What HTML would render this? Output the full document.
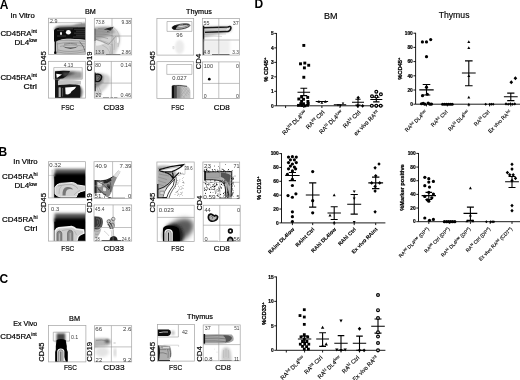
<!DOCTYPE html>
<html><head><meta charset="utf-8"><title>Figure</title>
<style>
html,body{margin:0;padding:0;background:#fff;}
body{width:520px;height:380px;overflow:hidden;}
svg{display:block;font-family:'Liberation Sans', sans-serif;}
</style></head><body>
<svg width="520" height="380" viewBox="0 0 520 380">
<defs>
<filter id="b1" x="-20%" y="-20%" width="140%" height="140%"><feGaussianBlur stdDeviation="0.5"/></filter>
<filter id="b2" x="-30%" y="-30%" width="160%" height="160%"><feGaussianBlur stdDeviation="1"/></filter>
<filter id="b3" x="-40%" y="-40%" width="180%" height="180%"><feGaussianBlur stdDeviation="1.6"/></filter>
<filter id="b4" x="-50%" y="-50%" width="200%" height="200%"><feGaussianBlur stdDeviation="2.5"/></filter>
<filter id="t1" x="-5%" y="-20%" width="110%" height="140%"><feGaussianBlur stdDeviation="0.28"/></filter>
</defs>
<rect width="520" height="380" fill="#fff"/>
<text x="-0.3" y="8.5" font-size="12" font-weight="bold" >A</text>
<text x="-1.6" y="155.6" font-size="12" font-weight="bold" >B</text>
<text x="-0.6" y="283.4" font-size="12" font-weight="bold" >C</text>
<text x="254.4" y="8.3" font-size="12" font-weight="bold" >D</text>
<text x="10.4" y="17.5" font-size="7.2" textLength="24.3" lengthAdjust="spacingAndGlyphs" stroke="#000" stroke-width="0.2">In Vitro</text>
<text x="0.4" y="35.8" font-size="7.7" textLength="36.6" lengthAdjust="spacingAndGlyphs" stroke="#000" stroke-width="0.2">CD45RA<tspan font-size="5" dy="-2.6">int</tspan></text>
<text x="14.5" y="44.8" font-size="7.7" textLength="22.5" lengthAdjust="spacingAndGlyphs" stroke="#000" stroke-width="0.2">DL4<tspan font-size="5" dy="-2.6">low</tspan></text>
<text x="0.4" y="80" font-size="7.7" textLength="36.6" lengthAdjust="spacingAndGlyphs" stroke="#000" stroke-width="0.2">CD45RA<tspan font-size="5" dy="-2.6">int</tspan></text>
<text x="23.5" y="89" font-size="7.7" textLength="13.5" lengthAdjust="spacingAndGlyphs" stroke="#000" stroke-width="0.2">Ctrl</text>
<text x="85" y="13.8" font-size="7.4" textLength="10.8" lengthAdjust="spacingAndGlyphs" stroke="#000" stroke-width="0.2">BM</text>
<text x="186" y="13.5" font-size="7.4" textLength="25.8" lengthAdjust="spacingAndGlyphs" stroke="#000" stroke-width="0.2">Thymus</text>
<text x="13.3" y="164.1" font-size="7.2" textLength="24.3" lengthAdjust="spacingAndGlyphs" stroke="#000" stroke-width="0.2">In Vitro</text>
<text x="2.1" y="179" font-size="7.7" textLength="35.5" lengthAdjust="spacingAndGlyphs" stroke="#000" stroke-width="0.2">CD45RA<tspan font-size="5" dy="-2.6">hi</tspan></text>
<text x="14.5" y="188.2" font-size="7.7" textLength="22.5" lengthAdjust="spacingAndGlyphs" stroke="#000" stroke-width="0.2">DL4<tspan font-size="5" dy="-2.6">low</tspan></text>
<text x="2.1" y="222" font-size="7.7" textLength="35.5" lengthAdjust="spacingAndGlyphs" stroke="#000" stroke-width="0.2">CD45RA<tspan font-size="5" dy="-2.6">hi</tspan></text>
<text x="24.1" y="231.4" font-size="7.7" textLength="13.2" lengthAdjust="spacingAndGlyphs" stroke="#000" stroke-width="0.2">Ctrl</text>
<text x="13.3" y="325.6" font-size="7.2" textLength="24" lengthAdjust="spacingAndGlyphs" stroke="#000" stroke-width="0.2">Ex Vivo</text>
<text x="0.2" y="339" font-size="7.7" textLength="36.6" lengthAdjust="spacingAndGlyphs" stroke="#000" stroke-width="0.2">CD45RA<tspan font-size="5" dy="-2.6">int</tspan></text>
<text x="69" y="320.8" font-size="7.8" textLength="11" lengthAdjust="spacingAndGlyphs" stroke="#000" stroke-width="0.2">BM</text>
<text x="187" y="319" font-size="7.6" textLength="26" lengthAdjust="spacingAndGlyphs" stroke="#000" stroke-width="0.2">Thymus</text>
<text x="61.2" y="109.8" font-size="8.1" textLength="13" lengthAdjust="spacingAndGlyphs" stroke="#000" stroke-width="0.2">FSC</text>
<text x="103.5" y="109.8" font-size="8.1" textLength="20.5" lengthAdjust="spacingAndGlyphs" stroke="#000" stroke-width="0.2">CD33</text>
<text x="171.3" y="109.8" font-size="8.1" textLength="13" lengthAdjust="spacingAndGlyphs" stroke="#000" stroke-width="0.2">FSC</text>
<text x="213.7" y="109.8" font-size="8.1" textLength="16.1" lengthAdjust="spacingAndGlyphs" stroke="#000" stroke-width="0.2">CD8</text>
<text transform="translate(46.1 70.9) rotate(-90)" font-size="8" textLength="19.6" lengthAdjust="spacingAndGlyphs" stroke="#000" stroke-width="0.2">CD45</text>
<text transform="translate(92.1 71.3) rotate(-90)" font-size="8" textLength="20" lengthAdjust="spacingAndGlyphs" stroke="#000" stroke-width="0.2">CD19</text>
<text transform="translate(155.3 70.85) rotate(-90)" font-size="8" textLength="19.7" lengthAdjust="spacingAndGlyphs" stroke="#000" stroke-width="0.2">CD45</text>
<text transform="translate(201.2 69.2) rotate(-90)" font-size="8" textLength="15.4" lengthAdjust="spacingAndGlyphs" stroke="#000" stroke-width="0.2">CD4</text>
<text x="61.2" y="250.7" font-size="8.1" textLength="13" lengthAdjust="spacingAndGlyphs" stroke="#000" stroke-width="0.2">FSC</text>
<text x="103.5" y="250.7" font-size="8.1" textLength="20.5" lengthAdjust="spacingAndGlyphs" stroke="#000" stroke-width="0.2">CD33</text>
<text x="171.3" y="250.7" font-size="8.1" textLength="13" lengthAdjust="spacingAndGlyphs" stroke="#000" stroke-width="0.2">FSC</text>
<text x="213.7" y="250.7" font-size="8.1" textLength="16.1" lengthAdjust="spacingAndGlyphs" stroke="#000" stroke-width="0.2">CD8</text>
<text transform="translate(46 212.5) rotate(-90)" font-size="8" textLength="19.4" lengthAdjust="spacingAndGlyphs" stroke="#000" stroke-width="0.2">CD45</text>
<text transform="translate(92 212.9) rotate(-90)" font-size="8" textLength="19.8" lengthAdjust="spacingAndGlyphs" stroke="#000" stroke-width="0.2">CD19</text>
<text transform="translate(155.3 212.45) rotate(-90)" font-size="8" textLength="19.7" lengthAdjust="spacingAndGlyphs" stroke="#000" stroke-width="0.2">CD45</text>
<text transform="translate(201.5 210.6) rotate(-90)" font-size="8" textLength="15" lengthAdjust="spacingAndGlyphs" stroke="#000" stroke-width="0.2">CD4</text>
<text x="63.9" y="370.2" font-size="8" textLength="12.9" lengthAdjust="spacingAndGlyphs" stroke="#000" stroke-width="0.2">FSC</text>
<text x="103.3" y="370.2" font-size="8" textLength="21.2" lengthAdjust="spacingAndGlyphs" stroke="#000" stroke-width="0.2">CD33</text>
<text x="169.1" y="370.2" font-size="8" textLength="13.1" lengthAdjust="spacingAndGlyphs" stroke="#000" stroke-width="0.2">FSC</text>
<text x="215.2" y="370.2" font-size="8" textLength="15.6" lengthAdjust="spacingAndGlyphs" stroke="#000" stroke-width="0.2">CD8</text>
<text transform="translate(44.3 361.70000000000005) rotate(-90)" font-size="7.8" textLength="19.2" lengthAdjust="spacingAndGlyphs" stroke="#000" stroke-width="0.2">CD45</text>
<text transform="translate(91.9 361.7) rotate(-90)" font-size="7.8" textLength="19.8" lengthAdjust="spacingAndGlyphs" stroke="#000" stroke-width="0.2">CD19</text>
<text transform="translate(155.3 361.7) rotate(-90)" font-size="7.8" textLength="19.6" lengthAdjust="spacingAndGlyphs" stroke="#000" stroke-width="0.2">CD45</text>
<text transform="translate(201.5 361.7) rotate(-90)" font-size="7.8" textLength="15.4" lengthAdjust="spacingAndGlyphs" stroke="#000" stroke-width="0.2">CD4</text>
<clipPath id="cp1"><rect x="48.6" y="18.2" width="36.80" height="36.20"/></clipPath>
<rect x="48.6" y="18.2" width="36.80" height="36.20" fill="#fff"/>
<g clip-path="url(#cp1)">
<path d="M48.6 22.7H81.6V39" stroke="#8f8f8f" stroke-width="0.55" fill="none"/>
<path d="M54 30Q55 25.6 62 25.8L92 24.8V30H54Z" fill="#666" filter="url(#b2)"/>
<path d="M72 26.5Q80 22.4 92 22.6V27.5H72Z" fill="#888" filter="url(#b2)"/>
<path d="M54 41.5V30.4Q54.8 27.9 60 27.8L92 27.2V41Q78 38.3 67 38.8Q60 39.2 57 41.5Z" fill="#0c0c0c" filter="url(#b1)"/>
<path d="M74 29.3H92M76 31.2H92M74 33.2H92M76 35.2H92M73 37H92M59 28.8H73M57 30.6H64M57 36H66" stroke="#666" stroke-width="0.5" fill="none"/>
<path d="M56.3 41.8Q60 39.3 67 39Q76 38.4 92 40.8V54.5H56.3Z" fill="#c2c2c2"/>
<path d="M57 44Q70 41 85.4 44M58 50Q70 53.4 85.4 49.4M60 46.5Q70 43.5 85.4 46.5M57 42Q58 48 57.6 53M58 52Q70 55 85.4 51.6M57 40.6Q66 39.6 85.4 41.4" stroke="#777" stroke-width="0.45" fill="none"/>
<path d="M62.5 46.2Q70.5 51.8 78.5 46.2Q70.5 48.8 62.5 46.2Z" fill="#555" filter="url(#b1)"/>
<path d="M64 44.2Q70.5 42.6 77 44.2" stroke="#555" stroke-width="0.6" fill="none" filter="url(#b1)"/>
<path d="M79.6 41.6Q84 46 85.4 52" stroke="#555" stroke-width="0.7" fill="none" filter="url(#b1)"/>
<ellipse cx="68.4" cy="32.3" rx="2.5" ry="2.25" fill="#fff"/>
<ellipse cx="61" cy="33.5" rx="0.9" ry="1.7" fill="#fff"/>
<rect x="54.6" y="39" width="1.5" height="14.5" fill="#111"/>
<rect x="54.2" y="51.6" width="2.2" height="2.2" fill="#000"/>
</g>
<rect x="48.6" y="18.2" width="36.80" height="36.20" fill="none" stroke="#a2a2a2" stroke-width="0.7"/>
<text x="50" y="23.4" font-size="5.15" textLength="7.4" lengthAdjust="spacingAndGlyphs" fill="#3c3c3c" >2.9</text>
<clipPath id="cp2"><rect x="94.3" y="18.3" width="37.40" height="36.60"/></clipPath>
<rect x="94.3" y="18.3" width="37.40" height="36.60" fill="#fff"/>
<g clip-path="url(#cp2)">
<path d="M90 27.6Q102 25.8 110 26.2Q116 27.6 119.6 33.4Q121.4 40 118.6 47Q115.6 52.4 113 60H90Z" fill="#d0d0d0" filter="url(#b2)"/>
<path d="M90 28.6Q102 26.8 109 27.4Q113 28.6 115.4 32Q109 35.4 104 37Q98 39.6 90 41Z" fill="#a0a0a0" filter="url(#b2)"/>
<path d="M94.6 30.2Q102 29.4 108 30.2M94.6 32Q102 31.4 110 32.6M94.6 34Q104 33.6 112.6 35.6M94.6 36Q102 36.4 108 38.6M98 28.6Q104 28 108 28.2" stroke="#777" stroke-width="0.45" fill="none"/>
<path d="M103.6 29.6Q108.5 27.6 113.6 26.8Q113.2 28.6 111 30.4Q107 29.6 103.6 29.6Z" fill="#222" filter="url(#b1)"/>
<path d="M107 31.8Q111 30.6 113 28.2" stroke="#555" stroke-width="0.8" fill="none" filter="url(#b1)"/>
<path d="M113.6 27.4Q117.6 30 119 35Q120.4 41 118 47" stroke="#aaa" stroke-width="0.5" fill="none"/>
<path d="M95 42Q102 44 107 48Q110 51 110 55M100 40Q108 42 112 45M113 36Q116 42 114 50M110 46L111 54.6M112.4 44V54.6" stroke="#999" stroke-width="0.4" fill="none"/>
<path d="M94.6 38.8Q103 41.6 108.5 44.4L116 36.2" stroke="#6a6a6a" stroke-width="0.5" fill="none"/>
<path d="M96 40.6Q101 41.6 104.6 43.6Q100 46 96 45.6Z" fill="#eee" filter="url(#b1)"/>
<ellipse cx="117.8" cy="40" rx="1.2" ry="3.3" fill="#fff" stroke="#aaa" stroke-width="0.3"/>
<rect x="94" y="28.6" width="1.4" height="12.4" fill="#444" filter="url(#b1)"/>
<path d="M106 54.7H120.4" stroke="#333" stroke-width="0.9"/>
</g>
<path d="M112 18.3V54.9M94.3 36H131.7" stroke="#8f8f8f" stroke-width="0.55" fill="none"/>
<rect x="94.3" y="18.3" width="37.40" height="36.60" fill="none" stroke="#a2a2a2" stroke-width="0.7"/>
<text x="95.8" y="23.8" font-size="5.15" textLength="8.8" lengthAdjust="spacingAndGlyphs" fill="#3c3c3c" >73.8</text>
<text x="131" y="23.8" font-size="5.15" textLength="9.6" lengthAdjust="spacingAndGlyphs" text-anchor="end" fill="#3c3c3c" >9.38</text>
<text x="95.3" y="54.3" font-size="5.15" textLength="9.2" lengthAdjust="spacingAndGlyphs" fill="#3c3c3c" >13.9</text>
<text x="131" y="54.3" font-size="5.15" textLength="9.6" lengthAdjust="spacingAndGlyphs" text-anchor="end" fill="#3c3c3c" >2.86</text>
<clipPath id="cp3"><rect x="48.6" y="61.3" width="36.80" height="36.80"/></clipPath>
<rect x="48.6" y="61.3" width="36.80" height="36.80" fill="#fff"/>
<g clip-path="url(#cp3)">
<path d="M55 71.2Q62 70.4 72 70.8Q80 71 82 72V78.6Q74 79.6 66 79.2L55 79.8Z" fill="#999" filter="url(#b2)"/>
<path d="M55 71.2Q62 70.4 70 71Q68 76 63 78.5L55 79.8Z" fill="#111" filter="url(#b1)"/>
<path d="M62 72.5Q70 72 76 73Q70 75 64 77Z" fill="#444" filter="url(#b2)"/>
<path d="M56.2 73.7L62 74.5L56.8 77.9Z" fill="#fff"/>
<path d="M55 79V98H58.2V84Q58 81 60 79.6Z" fill="#1a1a1a" filter="url(#b1)"/>
<path d="M58 80.5Q68 79.5 81 81V84.5Q70 83.5 58 85Z" fill="#c4c4c4" filter="url(#b1)"/>
<path d="M76 84.6Q82.5 86 82.6 92Q82.4 96 80.6 98.5H74Z" fill="#666" filter="url(#b2)"/>
<path d="M55 86Q58 84.6 66 84.4Q76 84 80 85.6Q81 90 80 98.5H55Z" fill="#161616" filter="url(#b1)"/>
<path d="M58.6 87.6Q59.6 86.8 60.8 87.6V97H58.6Z" fill="#b4b4b4"/>
<path d="M65.2 87.4L76.2 86.8Q75 89.6 71.6 91.2Q71 93.6 68 94.4L65.6 94.2Z" fill="#fff"/>
<path d="M62.6 88V96.5" stroke="#999" stroke-width="0.5"/>
</g>
<path d="M53.8 67.6H82.2V79.1H53.8Z" stroke="#8f8f8f" stroke-width="0.55" fill="none"/>
<rect x="48.6" y="61.3" width="36.80" height="36.80" fill="none" stroke="#a2a2a2" stroke-width="0.7"/>
<text x="63.8" y="67" font-size="5.15" textLength="9.3" lengthAdjust="spacingAndGlyphs" fill="#3c3c3c" >4.13</text>
<clipPath id="cp4"><rect x="94.3" y="61.3" width="37.40" height="36.80"/></clipPath>
<rect x="94.3" y="61.3" width="37.40" height="36.80" fill="#fff"/>
<g clip-path="url(#cp4)">
<path d="M90 73.5Q102 72.5 107 74.5Q111.4 77 110.4 82Q107 88 102 92Q99 96 96 97.6H90Z" fill="#d2d2d2" filter="url(#b2)"/>
<path d="M90 74Q100 73 102.8 75.5Q104.4 79 101.4 83.4Q98 87.4 90 89Z" fill="#808080" filter="url(#b2)"/>
<path d="M95.4 74.4Q100.4 73.4 101.6 76.4Q101.6 79.8 98.8 81.4Q96.8 82 95.4 81.2Z" fill="#777" stroke="#0a0a0a" stroke-width="1.4" filter="url(#b1)"/>
<path d="M96.6 76Q99 75.4 99.6 77Q99.4 79 97.6 79.6" stroke="#222" stroke-width="0.6" fill="none"/>
<rect x="94.2" y="72.6" width="1.5" height="18.6" fill="#0a0a0a" filter="url(#b1)"/>
<path d="M96 85Q98 90 100 97M97 83Q100 89 102 95M96 82.6Q101 84 104 82" stroke="#999" stroke-width="0.4" fill="none"/>
<path d="M103 97.9H109M110.5 97.9H113M114 97.9H117.4" stroke="#333" stroke-width="0.8"/>
</g>
<path d="M111.3 61.3V98.1M94.3 83.1H131.7" stroke="#8f8f8f" stroke-width="0.55" fill="none"/>
<rect x="94.3" y="61.3" width="37.40" height="36.80" fill="none" stroke="#a2a2a2" stroke-width="0.7"/>
<text x="95.3" y="67.4" font-size="5.15" textLength="5.6" lengthAdjust="spacingAndGlyphs" fill="#3c3c3c" >80</text>
<text x="131" y="67.4" font-size="5.15" textLength="10.6" lengthAdjust="spacingAndGlyphs" text-anchor="end" fill="#3c3c3c" >0.14</text>
<text x="95.6" y="97.4" font-size="5.15" textLength="5.6" lengthAdjust="spacingAndGlyphs" fill="#3c3c3c" >20</text>
<text x="131" y="97.4" font-size="5.15" textLength="10.6" lengthAdjust="spacingAndGlyphs" text-anchor="end" fill="#3c3c3c" >0.46</text>
<clipPath id="cp5"><rect x="156.9" y="18.4" width="36.80" height="36.70"/></clipPath>
<rect x="156.9" y="18.4" width="36.80" height="36.70" fill="#fff"/>
<g clip-path="url(#cp5)">
<ellipse cx="181" cy="26.6" rx="9.6" ry="2.9" transform="rotate(-9 181 26.6)" fill="#bbb" filter="url(#b1)"/>
<ellipse cx="181" cy="26.6" rx="9" ry="2.4" transform="rotate(-9 181 26.6)" fill="#b4b4b4" stroke="#333" stroke-width="0.8"/>
<ellipse cx="182" cy="26.3" rx="6" ry="0.9" transform="rotate(-9 182 26.3)" fill="#e8e8e8" stroke="#555" stroke-width="0.5"/>
<path d="M172.3 28.6Q171.8 26.6 174.6 25.6Q177 25 179 25Q176 27 175.5 29.6Q173 30 172.3 28.6Z" fill="#111" filter="url(#b1)"/>
<path d="M183 24.6Q187 23.6 189 25.2" stroke="#222" stroke-width="0.7" fill="none" filter="url(#b1)"/>
<ellipse cx="179.6" cy="47" rx="4.6" ry="7" fill="#ebebeb" filter="url(#b2)"/>
<path d="M173.4 43V55" stroke="#aaa" stroke-width="0.8" filter="url(#b1)"/>
<ellipse cx="173.4" cy="47.6" rx="0.5" ry="1.6" fill="#fff" stroke="#999" stroke-width="0.3"/>
</g>
<path d="M167 21.5H191.9V31.4H167Z" stroke="#8f8f8f" stroke-width="0.55" fill="none"/>
<rect x="156.9" y="18.4" width="36.80" height="36.70" fill="none" stroke="#a2a2a2" stroke-width="0.7"/>
<text x="176.3" y="36.6" font-size="5.35" textLength="6.4" lengthAdjust="spacingAndGlyphs" fill="#3c3c3c" >96</text>
<clipPath id="cp6"><rect x="202.6" y="18.4" width="36.80" height="36.70"/></clipPath>
<rect x="202.6" y="18.4" width="36.80" height="36.70" fill="#fff"/>
<g clip-path="url(#cp6)">
<path d="M203 26.5L231 26Q232.5 28 231 31.5L204 37.5Z" fill="#c0c0c0" filter="url(#b2)"/>
<path d="M204 27.8L228 27Q230.5 25.6 231 27.8Q230.8 30.4 228 31.6L205 32.2" fill="#e4e4e4" stroke="#161616" stroke-width="1.5" filter="url(#b1)"/>
<path d="M205 29.2L227 28.6M205 30.6L226 30.2" stroke="#777" stroke-width="0.4" fill="none"/>
<path d="M204 34.5Q215 33.6 226 34M204 36.5Q214 35.8 222 36.5" stroke="#aaa" stroke-width="0.4" fill="none"/>
<rect x="202.6" y="25.6" width="1.7" height="30" fill="#161616" filter="url(#b1)"/>
<rect x="204" y="40" width="26" height="14" fill="#efefef" filter="url(#b3)"/>
<path d="M212 54.7H229.5" stroke="#222" stroke-width="0.9"/>
</g>
<path d="M218.8 18.4V55.1M202.6 40H239.4" stroke="#8f8f8f" stroke-width="0.55" fill="none"/>
<rect x="202.6" y="18.4" width="36.80" height="36.70" fill="none" stroke="#a2a2a2" stroke-width="0.7"/>
<text x="203.6" y="24.6" font-size="5.15" textLength="6" lengthAdjust="spacingAndGlyphs" fill="#3c3c3c" >55</text>
<text x="238.8" y="24.6" font-size="5.15" textLength="6" lengthAdjust="spacingAndGlyphs" text-anchor="end" fill="#3c3c3c" >37</text>
<text x="203.6" y="54.2" font-size="5.15" textLength="6.6" lengthAdjust="spacingAndGlyphs" fill="#3c3c3c" >4.8</text>
<text x="238.8" y="54.2" font-size="5.15" textLength="6.6" lengthAdjust="spacingAndGlyphs" text-anchor="end" fill="#3c3c3c" >3.3</text>
<clipPath id="cp7"><rect x="156.9" y="61.7" width="36.80" height="36.70"/></clipPath>
<rect x="156.9" y="61.7" width="36.80" height="36.70" fill="#fff"/>
<g clip-path="url(#cp7)">
<path d="M172 86Q180 85 187.6 86.4Q190.6 88 190.4 92V99H172Z" fill="#c4c4c4" filter="url(#b1)"/>
<path d="M173 86.2Q178 85.6 181 86V99H173Z" fill="#8c8c8c" filter="url(#b2)"/>
<path d="M171.8 86Q173 85.2 174.6 85.5V99H171.8Z" fill="#0c0c0c" filter="url(#b1)"/>
<path d="M174.4 85.8V99H176.8V86Z" fill="#4a4a4a" filter="url(#b1)"/>
<path d="M172.3 85.8Q180 85 187 86.3" stroke="#222" stroke-width="0.8" fill="none" filter="url(#b1)"/>
<path d="M180 88L187 96M182 87L189 95M180 93L185 98M184 87L190 93M187 88L181 96M189 90L183 98M184 88L179 95M178 88L183 94" stroke="#9a9a9a" stroke-width="0.35" fill="none"/>
</g>
<path d="M166.8 64.5H191.9V74.4H166.8Z" stroke="#8f8f8f" stroke-width="0.55" fill="none"/>
<rect x="156.9" y="61.7" width="36.80" height="36.70" fill="none" stroke="#a2a2a2" stroke-width="0.7"/>
<text x="172.3" y="79.7" font-size="5.35" textLength="14.4" lengthAdjust="spacingAndGlyphs" fill="#3c3c3c" >0.027</text>
<clipPath id="cp8"><rect x="202.6" y="61.9" width="36.80" height="36.50"/></clipPath>
<rect x="202.6" y="61.9" width="36.80" height="36.50" fill="#fff"/>
<g clip-path="url(#cp8)"><circle cx="209.3" cy="79.2" r="1.35" fill="#000"/></g>
<path d="M218.8 61.9V98.4M202.6 83.4H239.4" stroke="#8f8f8f" stroke-width="0.55" fill="none"/>
<rect x="202.6" y="61.9" width="36.80" height="36.50" fill="none" stroke="#a2a2a2" stroke-width="0.7"/>
<text x="203.8" y="67.7" font-size="5.35" textLength="9.2" lengthAdjust="spacingAndGlyphs" fill="#3c3c3c" >100</text>
<text x="239" y="67.7" font-size="5.35" textLength="2.9" lengthAdjust="spacingAndGlyphs" text-anchor="end" fill="#3c3c3c" >0</text>
<text x="203.8" y="97.7" font-size="5.35" textLength="2.9" lengthAdjust="spacingAndGlyphs" fill="#3c3c3c" >0</text>
<text x="239" y="97.7" font-size="5.35" textLength="2.9" lengthAdjust="spacingAndGlyphs" text-anchor="end" fill="#3c3c3c" >0</text>
<clipPath id="cp9"><rect x="48.4" y="161.7" width="37.00" height="36.20"/></clipPath>
<rect x="48.4" y="161.7" width="37.00" height="36.20" fill="#fff"/>
<g clip-path="url(#cp9)">
<path d="M48.4 175.4H54M52.1 169.6V198" stroke="#aaa" stroke-width="0.5" fill="none"/>
<rect x="54.6" y="169" width="40" height="10" fill="#555" filter="url(#b3)"/>
<rect x="54.6" y="173.5" width="40" height="30" fill="#000" filter="url(#b2)"/>
<rect x="54.3" y="176.5" width="40" height="24" fill="#000"/>
<path d="M54.9 187.6Q56.2 184 60.4 183.4L72.5 182.5Q75.5 183 77.6 185L85.4 186.2V190.4Q80 191.4 77.8 193.2Q77 195.6 76.2 197H60.6Q56.6 196.2 55.1 194Z" fill="#d2d2d2" stroke="#f6f6f6" stroke-width="1"/>
<path d="M58 186Q66 184 72 184.6Q76 186 78 188.6" stroke="#888" stroke-width="0.5" fill="none"/>
<path d="M62.5 195.5Q62 187.8 67 187Q72 186.6 73 189.5Q70 188.6 67.6 189.4Q65.4 191 65.6 195.5Z" fill="#777" filter="url(#b1)"/>
<path d="M59 194Q58.6 188 61.6 186M74 195Q76 192 80 190.4" stroke="#999" stroke-width="0.45" fill="none"/>
</g>
<rect x="48.4" y="161.7" width="37.00" height="36.20" fill="none" stroke="#a2a2a2" stroke-width="0.7"/>
<text x="49.3" y="167.3" font-size="6.2" textLength="11.7" lengthAdjust="spacingAndGlyphs" fill="#3c3c3c" >0.32</text>
<clipPath id="cp10"><rect x="94" y="161.7" width="37.70" height="36.80"/></clipPath>
<rect x="94" y="161.7" width="37.70" height="36.80" fill="#fff"/>
<g clip-path="url(#cp10)">
<path d="M90 180L101 180.6Q108 179.4 113 176.4L118.4 170.6L120.4 171.8L117 177.6Q113.6 184 111.6 192Q109.6 196.6 107.4 197.6L101.6 193L96.8 193L90 192Z" fill="#8c8c8c" filter="url(#b1)"/>
<path d="M113.4 176L118.6 170.4L120.6 171.6L117 177.4Z" fill="#e2e2e2"/>
<path d="M94.4 180V193.6H96.6V181Z" fill="#222" filter="url(#b1)"/>
<path d="M103 181.6Q107 181 110.6 178.6L111.6 180.4Q108 183 104 183.6ZM107 184.6Q109.6 184 110.6 185.4L109.6 189.4Q107.6 188 106.6 186Z" fill="#222" filter="url(#b1)"/>
<path d="M97.6 182Q100 181.4 102 182.4V186Q100 187.4 97.6 186.6ZM103 187.4Q105 187 106 188.6V191Q104 191.6 103 190.6Z" fill="#e0e0e0"/>
<path d="M98 189Q102 192 105 194.6M97 181Q104 184 109 190M96.8 187Q100 190 101 193M110 182Q112 186 110.6 192" stroke="#333" stroke-width="0.6" fill="none"/><path d="M94.6 180.6Q101 181.6 106 180.4Q110 179 113.4 176.4" stroke="#1a1a1a" stroke-width="1" fill="none" filter="url(#b1)"/>
<path d="M107.4 198.2Q109.4 196.2 112 198.2Z" fill="#111"/>
<path d="M108 198.2H125" stroke="#333" stroke-width="0.8"/>
</g>
<path d="M112.6 161.7V198.5M94 185.8H131.7" stroke="#8f8f8f" stroke-width="0.55" fill="none"/>
<rect x="94" y="161.7" width="37.70" height="36.80" fill="none" stroke="#a2a2a2" stroke-width="0.7"/>
<text x="95.2" y="168.1" font-size="6.2" textLength="11.7" lengthAdjust="spacingAndGlyphs" fill="#3c3c3c" >40.9</text>
<text x="131.5" y="168.1" font-size="6.2" textLength="12" lengthAdjust="spacingAndGlyphs" text-anchor="end" fill="#3c3c3c" >7.39</text>
<text x="94.5" y="198.4" font-size="6.2" textLength="12" lengthAdjust="spacingAndGlyphs" fill="#3c3c3c" >51.7</text>
<text x="131.2" y="198.4" font-size="6.2" textLength="3.3" lengthAdjust="spacingAndGlyphs" text-anchor="end" fill="#3c3c3c" >0</text>
<clipPath id="cp11"><rect x="48.4" y="204.6" width="37.00" height="36.50"/></clipPath>
<rect x="48.4" y="204.6" width="37.00" height="36.50" fill="#fff"/>
<g clip-path="url(#cp11)">
<rect x="54.6" y="213.5" width="40" height="9" fill="#4a4a4a" filter="url(#b3)"/>
<rect x="54.6" y="218.5" width="40" height="30" fill="#000" filter="url(#b2)"/>
<rect x="54.3" y="221.6" width="40" height="24" fill="#000"/>
<path d="M54.5 230.4Q56 227.4 58.6 227L71.8 225.8Q74.6 226.4 76.4 228.2L84.2 229.3L84.7 233.6Q80 235.4 78.8 237Q78 239.4 77.6 241.4H54.5Z" fill="#f2f2f2"/>
<path d="M55.6 231.6Q57 229 59.4 228.6L71.6 227.4Q74 228 75.6 229.8L83 230.8L83.2 233Q79 234.6 77.6 236.4Q76.8 239 76.4 241.4H55.6Z" fill="#cfcfcf"/>
<path d="M57 241.4V233.6Q57.2 231.2 59.4 231Q61.6 231.2 61.8 233.6V241.4ZM67.6 241.4V232.8Q67.8 230.4 70.2 230.2Q72.6 230.4 72.8 232.8V241.4Z" fill="#8a8a8a" stroke="#5a5a5a" stroke-width="0.7" filter="url(#b1)"/>
<path d="M59.4 241.4V233.4M70.2 241.4V232.8" stroke="#ddd" stroke-width="0.6"/>
<path d="M62 230.6Q66 229.6 70 229.4M74.4 231Q76 232.6 76.4 235" stroke="#999" stroke-width="0.45" fill="none"/>
</g>
<rect x="48.4" y="204.6" width="37.00" height="36.50" fill="none" stroke="#a2a2a2" stroke-width="0.7"/>
<text x="51.1" y="211.3" font-size="5.85" textLength="8.1" lengthAdjust="spacingAndGlyphs" fill="#3c3c3c" >0.3</text>
<clipPath id="cp12"><rect x="94" y="204.9" width="37.70" height="36.20"/></clipPath>
<rect x="94" y="204.9" width="37.70" height="36.20" fill="#fff"/>
<g clip-path="url(#cp12)">
<path d="M90 216.6Q99 215.2 102 218Q104 222 102 226.4Q99 230.4 95 231.4L90 231.4Z" fill="#5a5a5a" filter="url(#b1)"/>
<path d="M95.4 217.6Q99.6 217 100.6 219.6Q101.2 223 99.2 226Q97 228.4 95.4 228.4ZM96.6 219.6Q98.8 219.6 98.8 222Q98.6 224.6 96.6 225.6Z" fill="none" stroke="#222" stroke-width="0.7"/>
<rect x="94.2" y="217" width="1.4" height="11" fill="#333" filter="url(#b1)"/>
<path d="M94.4 229Q98 230.4 101.4 228Q100.6 234 96 238.6H94.4Z" fill="#bbb" filter="url(#b1)"/>
<path d="M95 231Q98 232 100 230.6M95 234Q97 235 98.6 234" stroke="#777" stroke-width="0.4" fill="none"/>
<circle cx="111" cy="223" r="4.2" fill="#ccc" filter="url(#b1)"/>
<path d="M107 221.4A1.7 1.7 0 1 0 110.4 221.4A1.7 1.7 0 1 0 107 221.4M111.6 219A1.7 1.7 0 1 0 115 219A1.7 1.7 0 1 0 111.6 219M109.8 225.8A2.3 2.7 0 1 0 114.4 225.8A2.3 2.7 0 1 0 109.8 225.8" fill="none" stroke="#333" stroke-width="0.6"/>
<path d="M109.4 222.4Q112 224 112.6 228.4M108 224Q110 226 110.4 229" stroke="#222" stroke-width="0.9" fill="none" filter="url(#b1)"/>
<path d="M111 230Q112 233 111.6 236M113.4 230Q113 233 114 236M104 231Q107 233 109 236" stroke="#999" stroke-width="0.4" fill="none"/>
<path d="M109.4 241.1Q109.8 236.2 113.6 236Q117.4 236.2 117.8 241.1Z" fill="#1a1a1a" filter="url(#b1)"/>
<path d="M101.6 240.7H121.4" stroke="#1a1a1a" stroke-width="1"/>
</g>
<path d="M113.1 204.9V241.1M94 227.5H131.7" stroke="#8f8f8f" stroke-width="0.55" fill="none"/>
<rect x="94" y="204.9" width="37.70" height="36.20" fill="none" stroke="#a2a2a2" stroke-width="0.7"/>
<text x="95.1" y="210.6" font-size="4.85" textLength="9.3" lengthAdjust="spacingAndGlyphs" fill="#3c3c3c" >45.4</text>
<text x="130.6" y="210.6" font-size="4.85" textLength="8.8" lengthAdjust="spacingAndGlyphs" text-anchor="end" fill="#3c3c3c" >1.83</text>
<text x="95.3" y="240.8" font-size="4.65" textLength="4.4" lengthAdjust="spacingAndGlyphs" fill="#3c3c3c" >28</text>
<text x="130.4" y="240.8" font-size="4.65" textLength="8.6" lengthAdjust="spacingAndGlyphs" text-anchor="end" fill="#3c3c3c" >24.6</text>
<clipPath id="cp13"><rect x="156.9" y="162" width="37.30" height="36.50"/></clipPath>
<rect x="156.9" y="162" width="37.30" height="36.50" fill="#fff"/>
<g clip-path="url(#cp13)">
<path d="M178.8 174.2H185V164" stroke="#aaa" stroke-width="0.5" fill="none"/>
<path d="M157 166Q166 165 173 166.6L177 175Q172 184 166 188L157 191Z" fill="#aaa" filter="url(#b2)"/>
<path d="M158 168.6L170 168.4M158 171L167 172.4M159 174L169 176M158 177L167 179.6M158 180.6L166 183M158 184L164 186" stroke="#777" stroke-width="0.45" fill="none"/>
<path d="M159.6 169.6Q170 166.2 183.6 164.6Q180 168.4 172 171.6Q166 172.4 161.6 171.4Q159 170.8 159.6 169.6Z" fill="#f4f4f4" stroke="#111" stroke-width="1.2" filter="url(#b1)"/>
<path d="M162 169.9Q170 168 179 166.7" stroke="#666" stroke-width="0.4" fill="none"/>
<path d="M165 172.4Q171 173.6 173 178.6L179 172.6M173 178.6Q173.6 175 172.4 172.6" stroke="#111" stroke-width="1.2" fill="none" filter="url(#b1)"/>
<path d="M174.6 179Q174.4 186 169.6 191Q167.6 194.4 166.8 197.6L162.6 197.8Q163.6 191.6 167.4 187Q171.4 182.6 174.6 179Z" fill="#fdfdfd" stroke="#222" stroke-width="0.9" filter="url(#b1)"/>
<path d="M176 177Q177.6 184 172.6 190Q170 194 169 198" stroke="#444" stroke-width="0.8" fill="none" filter="url(#b1)"/>
<path d="M173 178.6Q170 183.6 164 187L158 189.4" stroke="#222" stroke-width="1" fill="none" filter="url(#b1)"/>
<path d="M158 189.8H166Q163.6 192 162.6 197.6H158Z" fill="#bbb"/>
<path d="M160 191.4H164V194.6H160Z" fill="#d8d8d8" stroke="#777" stroke-width="0.45"/>
<path d="M157.7 184V197.9H167" stroke="#0a0a0a" stroke-width="1.4" fill="none"/>
<g fill="#333"><circle cx="179.9" cy="180.9" r=".32"/><circle cx="180.6" cy="173.6" r=".32"/><circle cx="182.5" cy="178.2" r=".32"/><circle cx="184.0" cy="183.3" r=".32"/><circle cx="179.3" cy="187.3" r=".32"/><circle cx="180.7" cy="192.8" r=".32"/><circle cx="181.7" cy="188.1" r=".32"/><circle cx="181.8" cy="186.2" r=".32"/><circle cx="175.3" cy="192.8" r=".32"/><circle cx="181.5" cy="193.1" r=".32"/><circle cx="183.3" cy="181.5" r=".32"/><circle cx="179.0" cy="194.5" r=".32"/><circle cx="179.9" cy="175.3" r=".32"/><circle cx="183.7" cy="182.5" r=".32"/><circle cx="177.7" cy="184.2" r=".32"/><circle cx="178.2" cy="186.0" r=".32"/><circle cx="183.1" cy="188.4" r=".32"/><circle cx="182.7" cy="195.8" r=".32"/><circle cx="176.5" cy="192.7" r=".32"/><circle cx="183.1" cy="185.7" r=".32"/><circle cx="176.9" cy="192.0" r=".32"/><circle cx="181.6" cy="173.5" r=".32"/><circle cx="183.9" cy="174.1" r=".32"/><circle cx="178.7" cy="175.6" r=".32"/><circle cx="181.9" cy="192.9" r=".32"/><circle cx="180.5" cy="173.1" r=".32"/><circle cx="178.0" cy="193.1" r=".32"/><circle cx="179.5" cy="196.0" r=".32"/><circle cx="175.7" cy="186.4" r=".32"/><circle cx="176.8" cy="181.8" r=".32"/><circle cx="180.4" cy="173.0" r=".32"/><circle cx="177.8" cy="195.0" r=".32"/><circle cx="178.4" cy="183.0" r=".32"/><circle cx="180.8" cy="186.3" r=".32"/><circle cx="180.6" cy="194.6" r=".32"/><circle cx="178.9" cy="189.3" r=".32"/><circle cx="177.7" cy="195.5" r=".32"/><circle cx="179.9" cy="172.3" r=".32"/><circle cx="180.2" cy="172.5" r=".32"/><circle cx="180.7" cy="173.4" r=".32"/><circle cx="179.2" cy="188.3" r=".32"/><circle cx="181.4" cy="189.7" r=".32"/><circle cx="175.5" cy="188.2" r=".32"/><circle cx="177.3" cy="183.0" r=".32"/><circle cx="177.9" cy="180.7" r=".32"/><circle cx="178.3" cy="186.3" r=".32"/><circle cx="178.4" cy="190.5" r=".32"/><circle cx="180.1" cy="189.6" r=".32"/><circle cx="177.0" cy="191.3" r=".32"/><circle cx="176.7" cy="182.4" r=".32"/><circle cx="179.9" cy="179.7" r=".32"/><circle cx="182.5" cy="182.5" r=".32"/><circle cx="176.5" cy="180.1" r=".32"/><circle cx="183.0" cy="182.8" r=".32"/><circle cx="176.1" cy="184.7" r=".32"/><circle cx="182.3" cy="192.1" r=".32"/><circle cx="177.5" cy="191.4" r=".32"/><circle cx="182.3" cy="180.3" r=".32"/><circle cx="177.6" cy="191.1" r=".32"/><circle cx="178.1" cy="182.0" r=".32"/><circle cx="178.7" cy="194.1" r=".32"/><circle cx="175.0" cy="194.6" r=".32"/><circle cx="183.9" cy="182.4" r=".32"/><circle cx="183.3" cy="177.3" r=".32"/><circle cx="182.5" cy="187.9" r=".32"/><circle cx="177.6" cy="180.2" r=".32"/><circle cx="175.6" cy="186.1" r=".32"/><circle cx="182.3" cy="173.1" r=".32"/><circle cx="181.2" cy="194.2" r=".32"/><circle cx="183.1" cy="185.8" r=".32"/></g>
</g>
<rect x="156.9" y="162" width="37.30" height="36.50" fill="none" stroke="#a2a2a2" stroke-width="0.7"/>
<text x="184.5" y="169.9" font-size="4.75" textLength="8.2" lengthAdjust="spacingAndGlyphs" fill="#3c3c3c" >39.6</text>
<clipPath id="cp14"><rect x="202.9" y="162" width="36.80" height="36.70"/></clipPath>
<rect x="202.9" y="162" width="36.80" height="36.70" fill="#fff"/>
<g clip-path="url(#cp14)">
<path d="M204.6 171.6L232 171.2L231.4 197H225.4Q225.8 186 223.6 182.4Q220 180 212 179.6L204.6 179.8Z" fill="#b2b2b2" filter="url(#b1)"/>
<path d="M204.8 172L231.8 171.6Q232 184 231 197M204.8 179.8Q214 179.2 220 180.6Q225 183 225.4 189Q225.6 193 226 197" stroke="#1a1a1a" stroke-width="0.95" fill="none" filter="url(#b1)"/>
<path d="M206 174H226Q229.4 178 229.4 186M206 176H222Q227.4 180 227.8 190M206 177.8H219" stroke="#666" stroke-width="0.45" fill="none"/>
<path d="M221 172.6Q228 173 230.8 175.4Q229.4 180 229.4 186Q226 178.4 221 177Z" fill="#555" filter="url(#b1)"/>
<path d="M226.6 186Q229 190 229.6 196.6H227.4Q227.4 190 226.6 186Z" fill="#444" filter="url(#b1)"/>
<rect x="204.2" y="171" width="1.7" height="9.6" fill="#0a0a0a"/>
<g fill="#0a0a0a"><circle cx="212.1" cy="182.7" r="0.4"/><circle cx="205.8" cy="189.5" r="0.5"/><circle cx="218.6" cy="196.2" r="0.45"/><circle cx="204.9" cy="187.7" r="0.4"/><circle cx="210.0" cy="189.8" r="0.4"/><circle cx="224.7" cy="182.2" r="0.45"/><circle cx="219.8" cy="190.4" r="0.4"/><circle cx="218.4" cy="187.1" r="0.45"/><circle cx="211.2" cy="182.6" r="0.4"/><circle cx="218.3" cy="190.0" r="0.45"/><circle cx="206.6" cy="190.2" r="0.45"/><circle cx="213.3" cy="189.7" r="0.4"/><circle cx="218.1" cy="191.0" r="0.55"/><circle cx="221.0" cy="187.6" r="0.5"/><circle cx="213.0" cy="184.4" r="0.45"/><circle cx="221.5" cy="184.3" r="0.5"/><circle cx="217.1" cy="195.6" r="0.55"/><circle cx="207.0" cy="187.4" r="0.5"/><circle cx="207.8" cy="188.7" r="0.4"/><circle cx="218.0" cy="194.0" r="0.5"/><circle cx="212.5" cy="186.2" r="0.55"/><circle cx="218.5" cy="188.1" r="0.4"/><circle cx="220.6" cy="181.1" r="0.5"/><circle cx="220.2" cy="197.7" r="0.55"/><circle cx="211.1" cy="186.9" r="0.5"/><circle cx="204.6" cy="188.2" r="0.45"/><circle cx="219.3" cy="188.8" r="0.45"/><circle cx="223.2" cy="182.3" r="0.45"/><circle cx="216.4" cy="183.0" r="0.55"/><circle cx="217.7" cy="195.7" r="0.55"/><circle cx="214.4" cy="186.4" r="0.55"/><circle cx="208.4" cy="184.1" r="0.45"/><circle cx="208.6" cy="185.0" r="0.45"/><circle cx="214.5" cy="186.6" r="0.5"/><circle cx="227.8" cy="192.3" r="0.4"/><circle cx="227.8" cy="192.1" r="0.55"/><circle cx="214.0" cy="187.0" r="0.55"/><circle cx="219.9" cy="181.1" r="0.4"/><circle cx="206.7" cy="190.7" r="0.4"/><circle cx="204.0" cy="182.7" r="0.4"/><circle cx="205.8" cy="183.7" r="0.55"/><circle cx="207.7" cy="184.5" r="0.5"/><circle cx="219.1" cy="188.4" r="0.4"/><circle cx="225.2" cy="197.7" r="0.55"/><circle cx="216.0" cy="185.6" r="0.45"/><circle cx="206.6" cy="186.1" r="0.5"/><circle cx="216.0" cy="192.3" r="0.4"/><circle cx="213.0" cy="192.3" r="0.4"/><circle cx="223.0" cy="185.3" r="0.4"/><circle cx="221.4" cy="184.6" r="0.5"/><circle cx="209.6" cy="189.6" r="0.5"/><circle cx="219.9" cy="190.9" r="0.45"/><circle cx="224.2" cy="194.6" r="0.45"/><circle cx="209.0" cy="188.8" r="0.4"/><circle cx="228.7" cy="194.1" r="0.55"/><circle cx="210.5" cy="192.3" r="0.5"/><circle cx="228.7" cy="197.0" r="0.5"/><circle cx="206.0" cy="181.8" r="0.55"/><circle cx="208.9" cy="183.6" r="0.4"/><circle cx="216.0" cy="191.6" r="0.4"/><circle cx="224.9" cy="182.1" r="0.55"/><circle cx="223.6" cy="193.4" r="0.55"/><circle cx="219.9" cy="181.5" r="0.55"/><circle cx="215.6" cy="193.2" r="0.4"/><circle cx="222.1" cy="183.0" r="0.45"/><circle cx="204.7" cy="190.5" r="0.55"/><circle cx="224.2" cy="182.6" r="0.55"/><circle cx="220.4" cy="186.2" r="0.45"/><circle cx="222.2" cy="181.8" r="0.45"/><circle cx="224.7" cy="183.8" r="0.5"/><circle cx="209.3" cy="188.9" r="0.5"/><circle cx="210.5" cy="187.5" r="0.45"/><circle cx="205.5" cy="193.2" r="0.55"/><circle cx="220.6" cy="194.5" r="0.55"/><circle cx="224.7" cy="195.6" r="0.45"/><circle cx="217.3" cy="189.3" r="0.4"/><circle cx="225.8" cy="193.8" r="0.4"/><circle cx="223.4" cy="182.7" r="0.45"/><circle cx="215.8" cy="192.9" r="0.4"/><circle cx="212.1" cy="189.2" r="0.55"/><circle cx="223.6" cy="181.9" r="0.4"/><circle cx="210.2" cy="184.9" r="0.4"/><circle cx="216.7" cy="190.0" r="0.4"/><circle cx="215.1" cy="190.9" r="0.45"/><circle cx="221.3" cy="188.1" r="0.55"/><circle cx="216.7" cy="184.4" r="0.5"/><circle cx="227.1" cy="195.9" r="0.45"/><circle cx="225.0" cy="182.4" r="0.4"/><circle cx="213.8" cy="185.6" r="0.45"/><circle cx="214.7" cy="183.8" r="0.5"/><circle cx="223.6" cy="196.0" r="0.45"/><circle cx="213.2" cy="184.5" r="0.45"/><circle cx="224.8" cy="182.9" r="0.55"/><circle cx="214.5" cy="186.3" r="0.4"/><circle cx="222.1" cy="180.3" r="0.55"/><circle cx="215.0" cy="180.3" r="0.5"/><circle cx="216.9" cy="185.3" r="0.4"/><circle cx="206.1" cy="184.8" r="0.45"/><circle cx="210.8" cy="182.3" r="0.55"/><circle cx="225.2" cy="192.0" r="0.5"/><circle cx="214.1" cy="189.6" r="0.55"/><circle cx="221.5" cy="181.6" r="0.4"/><circle cx="224.0" cy="183.3" r="0.4"/><circle cx="210.7" cy="180.3" r="0.4"/><circle cx="224.0" cy="181.5" r="0.45"/><circle cx="215.3" cy="186.0" r="0.55"/><circle cx="207.2" cy="189.4" r="0.45"/><circle cx="227.5" cy="197.3" r="0.5"/><circle cx="205.3" cy="183.6" r="0.5"/><circle cx="219.7" cy="189.5" r="0.45"/><circle cx="211.2" cy="188.9" r="0.45"/><circle cx="204.5" cy="189.0" r="0.45"/><circle cx="216.9" cy="184.4" r="0.55"/><circle cx="214.8" cy="188.8" r="0.55"/><circle cx="209.4" cy="184.1" r="0.45"/><circle cx="224.8" cy="192.6" r="0.45"/><circle cx="214.1" cy="186.2" r="0.4"/><circle cx="224.9" cy="180.3" r="0.5"/><circle cx="214.8" cy="181.0" r="0.55"/><circle cx="229.2" cy="171.3" r="0.4"/><circle cx="221.4" cy="171.3" r="0.35"/><circle cx="217.3" cy="169.8" r="0.4"/><circle cx="204.1" cy="170.4" r="0.4"/><circle cx="232.2" cy="170.9" r="0.35"/><circle cx="205.0" cy="171.9" r="0.35"/><circle cx="214.3" cy="169.4" r="0.4"/><circle cx="206.4" cy="170.2" r="0.5"/><circle cx="209.8" cy="170.8" r="0.35"/><circle cx="206.6" cy="171.7" r="0.35"/><circle cx="215.6" cy="169.5" r="0.35"/><circle cx="212.7" cy="171.2" r="0.35"/><circle cx="221.0" cy="170.9" r="0.35"/><circle cx="223.1" cy="171.4" r="0.5"/><circle cx="215.3" cy="170.3" r="0.4"/><circle cx="208.3" cy="171.4" r="0.5"/><circle cx="208.2" cy="171.7" r="0.5"/><circle cx="229.9" cy="171.2" r="0.5"/><circle cx="224.3" cy="170.8" r="0.5"/><circle cx="225.8" cy="171.0" r="0.35"/><circle cx="228.0" cy="171.0" r="0.5"/><circle cx="223.8" cy="171.3" r="0.35"/><circle cx="206.5" cy="169.5" r="0.5"/><circle cx="214.5" cy="169.7" r="0.4"/><circle cx="220.2" cy="171.2" r="0.5"/><circle cx="219.4" cy="170.1" r="0.4"/><circle cx="204.1" cy="171.6" r="0.5"/><circle cx="231.0" cy="171.9" r="0.35"/><circle cx="223.1" cy="169.6" r="0.5"/><circle cx="217.7" cy="171.7" r="0.4"/><circle cx="210.8" cy="171.5" r="0.35"/><circle cx="225.5" cy="172.1" r="0.4"/><circle cx="228.5" cy="169.6" r="0.5"/><circle cx="212.3" cy="169.5" r="0.5"/><circle cx="222.6" cy="169.6" r="0.35"/><circle cx="213.6" cy="171.2" r="0.5"/><circle cx="212.8" cy="171.0" r="0.35"/><circle cx="218.0" cy="170.8" r="0.5"/><circle cx="206.9" cy="170.0" r="0.4"/><circle cx="212.4" cy="170.8" r="0.4"/><circle cx="217.5" cy="171.5" r="0.5"/><circle cx="209.8" cy="172.1" r="0.4"/><circle cx="204.5" cy="170.7" r="0.5"/><circle cx="232.1" cy="170.7" r="0.4"/><circle cx="215.2" cy="172.0" r="0.35"/><circle cx="206.2" cy="169.7" r="0.5"/><circle cx="219.2" cy="172.1" r="0.35"/><circle cx="221.5" cy="171.2" r="0.4"/><circle cx="229.7" cy="171.4" r="0.35"/><circle cx="218.4" cy="171.9" r="0.4"/><circle cx="204.7" cy="169.4" r="0.4"/><circle cx="223.8" cy="170.5" r="0.5"/><circle cx="208.1" cy="170.4" r="0.4"/><circle cx="207.5" cy="170.3" r="0.4"/><circle cx="225.8" cy="171.7" r="0.35"/><circle cx="233.3" cy="176.9" r="0.35"/><circle cx="233.2" cy="179.2" r="0.4"/><circle cx="231.2" cy="181.8" r="0.5"/><circle cx="231.2" cy="195.1" r="0.4"/><circle cx="233.1" cy="179.0" r="0.35"/><circle cx="233.0" cy="179.1" r="0.35"/><circle cx="231.6" cy="178.6" r="0.5"/><circle cx="231.8" cy="191.3" r="0.4"/><circle cx="233.1" cy="192.3" r="0.5"/><circle cx="232.0" cy="193.9" r="0.5"/><circle cx="232.3" cy="190.0" r="0.35"/><circle cx="233.2" cy="182.3" r="0.5"/><circle cx="232.8" cy="188.1" r="0.4"/><circle cx="232.2" cy="194.8" r="0.5"/><circle cx="231.3" cy="183.8" r="0.4"/><circle cx="231.7" cy="178.4" r="0.5"/><circle cx="233.3" cy="178.5" r="0.5"/><circle cx="231.6" cy="184.1" r="0.5"/><circle cx="231.9" cy="176.2" r="0.35"/><circle cx="231.2" cy="184.5" r="0.4"/><circle cx="232.3" cy="183.3" r="0.4"/><circle cx="233.4" cy="183.2" r="0.35"/><circle cx="232.3" cy="178.1" r="0.35"/><circle cx="231.8" cy="174.3" r="0.35"/><circle cx="231.9" cy="192.2" r="0.35"/><circle cx="233.1" cy="190.7" r="0.4"/><circle cx="231.9" cy="190.6" r="0.35"/><circle cx="231.9" cy="180.5" r="0.35"/><circle cx="232.2" cy="186.4" r="0.4"/><circle cx="231.3" cy="184.6" r="0.5"/><circle cx="232.9" cy="193.2" r="0.35"/><circle cx="231.7" cy="178.2" r="0.4"/><circle cx="232.5" cy="182.8" r="0.4"/><circle cx="233.0" cy="193.8" r="0.35"/><circle cx="231.3" cy="182.6" r="0.4"/><circle cx="233.3" cy="184.2" r="0.35"/><circle cx="231.9" cy="195.2" r="0.5"/><circle cx="233.1" cy="196.3" r="0.35"/><circle cx="232.9" cy="177.6" r="0.35"/><circle cx="232.3" cy="189.1" r="0.5"/><circle cx="232.7" cy="193.2" r="0.4"/><circle cx="231.2" cy="191.4" r="0.35"/><circle cx="232.9" cy="177.8" r="0.35"/><circle cx="232.5" cy="179.6" r="0.35"/><circle cx="232.5" cy="185.2" r="0.4"/><circle cx="214.6" cy="166" r=".45"/><circle cx="218.4" cy="166.6" r=".45"/><circle cx="225.6" cy="164.4" r=".45"/><circle cx="219.4" cy="168" r=".45"/><circle cx="234.6" cy="186" r=".45"/><circle cx="210" cy="168" r=".45"/><circle cx="235" cy="176" r=".45"/><circle cx="222" cy="169" r=".45"/><circle cx="207" cy="168.6" r=".45"/></g>
<path d="M219 198.2H232" stroke="#111" stroke-width="1"/>
</g>
<path d="M219.8 162V198.7M202.9 182.3H239.7" stroke="#8f8f8f" stroke-width="0.55" fill="none"/>
<rect x="202.9" y="162" width="36.80" height="36.70" fill="none" stroke="#a2a2a2" stroke-width="0.7"/>
<text x="203.9" y="168.1" font-size="6.2" textLength="7" lengthAdjust="spacingAndGlyphs" fill="#3c3c3c" >23</text>
<text x="239.6" y="168.1" font-size="6.2" textLength="6" lengthAdjust="spacingAndGlyphs" text-anchor="end" fill="#3c3c3c" >71</text>
<text x="203.2" y="198.6" font-size="6.2" textLength="12.5" lengthAdjust="spacingAndGlyphs" fill="#3c3c3c" >0.59</text>
<text x="239.6" y="198.6" font-size="6.2" textLength="3" lengthAdjust="spacingAndGlyphs" text-anchor="end" fill="#3c3c3c" >5</text>
<clipPath id="cp15"><rect x="157.2" y="205.2" width="37.00" height="36.20"/></clipPath>
<rect x="157.2" y="205.2" width="37.00" height="36.20" fill="#fff"/>
<g clip-path="url(#cp15)">
<ellipse cx="179" cy="230.5" rx="16" ry="10" transform="rotate(-32 179 230.5)" fill="#5a5a5a" filter="url(#b4)"/>
<ellipse cx="173.4" cy="235.4" rx="10" ry="11.5" fill="#1a1a1a" filter="url(#b3)"/>
<path d="M163 245V228.6Q164 226 168 225.6Q175 225.4 178.6 228.4Q180.6 232 179.6 245Z" fill="#000" filter="url(#b1)"/>
<path d="M164.4 241.6V232.6Q164.6 229.2 168.4 229Q172.4 229.2 172.8 232.6V241.6Z" fill="#f4f4f4"/>
<path d="M165.8 241.6V233Q166 230.6 168.4 230.4Q171 230.6 171.2 233V241.6" fill="#c8c8c8" stroke="#555" stroke-width="0.5"/>
<path d="M168.5 241.6V232.6" stroke="#111" stroke-width="0.9"/>
</g>
<path d="M157.2 217.4H194.2" stroke="#8f8f8f" stroke-width="0.55" fill="none"/>
<rect x="157.2" y="205.2" width="37.00" height="36.20" fill="none" stroke="#a2a2a2" stroke-width="0.7"/>
<text x="158.7" y="212.2" font-size="6.1" textLength="15.3" lengthAdjust="spacingAndGlyphs" fill="#3c3c3c" >0.023</text>
<clipPath id="cp16"><rect x="203.2" y="205.2" width="37.00" height="36.20"/></clipPath>
<rect x="203.2" y="205.2" width="37.00" height="36.20" fill="#fff"/>
<g clip-path="url(#cp16)">
<path d="M208.4 216.4Q209 213.8 211.6 214.2Q213.4 215.2 214.4 216Q216.4 214.6 217.6 216.6Q217.8 219.4 215 220.6Q212.6 221.8 210.4 220.8Q208 219.4 208.4 216.4Z" fill="#b8b8b8" stroke="#0a0a0a" stroke-width="1.6" filter="url(#b1)"/>
<path d="M210.6 217Q211.6 215.8 212.8 217Q213 218.6 211.6 219" stroke="#333" stroke-width="0.5" fill="none"/>
<circle cx="230.4" cy="231" r="1.8" fill="#fff" stroke="#0a0a0a" stroke-width="1.7" filter="url(#b1)"/>
<path d="M227.6 242Q227.6 237.6 230.3 237.4Q233 237.6 233 242Z" fill="#999" stroke="#0a0a0a" stroke-width="1.6" filter="url(#b1)"/>
<path d="M206 241H218" stroke="#999" stroke-width="0.6"/>
</g>
<path d="M219.8 205.2V241.4M203.2 225.2H240.2" stroke="#8f8f8f" stroke-width="0.55" fill="none"/>
<rect x="203.2" y="205.2" width="37.00" height="36.20" fill="none" stroke="#a2a2a2" stroke-width="0.7"/>
<text x="204.4" y="211.5" font-size="6.05" textLength="6.4" lengthAdjust="spacingAndGlyphs" fill="#3c3c3c" >44</text>
<text x="240.1" y="211.5" font-size="6.05" textLength="3.2" lengthAdjust="spacingAndGlyphs" text-anchor="end" fill="#3c3c3c" >0</text>
<text x="204.4" y="241.4" font-size="6.05" textLength="3.2" lengthAdjust="spacingAndGlyphs" fill="#3c3c3c" >0</text>
<text x="240" y="241.4" font-size="6.05" textLength="6.5" lengthAdjust="spacingAndGlyphs" text-anchor="end" fill="#3c3c3c" >56</text>
<clipPath id="cp17"><rect x="48.6" y="325.5" width="37.30" height="36.40"/></clipPath>
<rect x="48.6" y="325.5" width="37.30" height="36.40" fill="#fff"/>
<g clip-path="url(#cp17)">
<path d="M53.3 332.2H69.5V341.1H53.3Z" stroke="#8f8f8f" stroke-width="0.55" fill="none"/>
<rect x="56.6" y="333.4" width="8.6" height="10" fill="#444" filter="url(#b2)"/>
<path d="M56.6 340Q61 338 65.6 340L66.8 346V368H55.8V346Z" fill="#050505" filter="url(#b1)"/>
<path d="M55.2 362V352Q55.6 349 58 348H65Q67.4 349 67.8 352V362Z" fill="#000" filter="url(#b1)"/>
<path d="M57.2 361.4V351.2Q57.4 348.6 60.8 348.4Q64.2 348.6 64.4 351.2V357Q65 360 66 361.4Z" fill="#eee"/>
<path d="M58.6 361.4V351.6Q58.8 350 60.8 349.8Q62.8 350 63 351.6V361.4" fill="#c4c4c4" stroke="#444" stroke-width="0.5"/>
<path d="M60.8 361.4V351.6" stroke="#222" stroke-width="0.7"/>
</g>
<rect x="48.6" y="325.5" width="37.30" height="36.40" fill="none" stroke="#a2a2a2" stroke-width="0.7"/>
<text x="70.9" y="339.3" font-size="5.95" textLength="7.4" lengthAdjust="spacingAndGlyphs" fill="#3c3c3c" >0.1</text>
<clipPath id="cp18"><rect x="94.4" y="325.7" width="37.30" height="36.20"/></clipPath>
<rect x="94.4" y="325.7" width="37.30" height="36.20" fill="#fff"/>
<g clip-path="url(#cp18)">
<path d="M90 339Q100 337.6 108 338.6Q111 340 110.6 344Q108 346.6 100 347L90 348Z" fill="#b4b4b4" filter="url(#b2)"/>
<ellipse cx="107.2" cy="341.2" rx="2.4" ry="1.8" fill="#555" filter="url(#b2)"/>
<path d="M96 340.4Q102 339.6 106 340.6" stroke="#777" stroke-width="0.6" fill="none" filter="url(#b1)"/>
<ellipse cx="102" cy="352" rx="7" ry="5" fill="#e4e4e4" filter="url(#b3)"/>
<ellipse cx="115" cy="352.5" rx="1.2" ry="4.5" fill="#d0d0d0" filter="url(#b2)"/>
<ellipse cx="114.6" cy="343" rx="1.4" ry="1" fill="#e0e0e0" filter="url(#b1)"/>
</g>
<path d="M111.4 325.7V361.9M94.4 346.9H131.7" stroke="#8f8f8f" stroke-width="0.55" fill="none"/>
<rect x="94.4" y="325.7" width="37.30" height="36.20" fill="none" stroke="#a2a2a2" stroke-width="0.7"/>
<text x="95.3" y="331.4" font-size="6.05" textLength="6.9" lengthAdjust="spacingAndGlyphs" fill="#3c3c3c" >66</text>
<text x="131.5" y="331.4" font-size="6.05" textLength="8.5" lengthAdjust="spacingAndGlyphs" text-anchor="end" fill="#3c3c3c" >2.6</text>
<text x="95.6" y="361.5" font-size="6.05" textLength="6.6" lengthAdjust="spacingAndGlyphs" fill="#3c3c3c" >22</text>
<text x="131.2" y="361.5" font-size="6.05" textLength="8.2" lengthAdjust="spacingAndGlyphs" text-anchor="end" fill="#3c3c3c" >9.2</text>
<clipPath id="cp19"><rect x="157.6" y="324.5" width="37.00" height="36.60"/></clipPath>
<rect x="157.6" y="324.5" width="37.00" height="36.60" fill="#fff"/>
<g clip-path="url(#cp19)">
<path d="M157.6 337H178.4V324.5" stroke="#8f8f8f" stroke-width="0.55" fill="none"/>
<path d="M152 329.6H168.6Q171.4 330.4 171 333Q170.4 335.8 168 336H152Z" fill="#0a0a0a" filter="url(#b1)"/>
<path d="M159 332.8Q163 331.6 168 332" stroke="#ddd" stroke-width="0.8" fill="none" filter="url(#b1)"/>
<ellipse cx="173" cy="333" rx="1.6" ry="2.4" fill="#bbb" filter="url(#b2)"/>
<path d="M152 345.4Q162 344.6 170 346Q172 350 171.4 356Q170 360 168 361.2H152Z" fill="#b0b0b0" filter="url(#b1)"/>
<path d="M158.6 346V361M161 347Q164 346 167 347.6Q169 352 168 358M159 353Q163 352 167 354M160 349.6H166" stroke="#555" stroke-width="0.5" fill="none"/>
<path d="M157.6 345.6H159Q160.2 349 160 353Q159.6 358 158.8 361H157.6Z" fill="#161616" filter="url(#b1)"/><path d="M163.6 346.4Q167 346 169.4 347.4L169 349.6Q166 348.6 163.6 349Z" fill="#666" filter="url(#b1)"/><path d="M169.6 348Q171 352 170.4 357" stroke="#555" stroke-width="0.8" fill="none" filter="url(#b1)"/>
<path d="M162.6 346.6H169.6V348.8H162.6Z" fill="#ddd" stroke="#777" stroke-width="0.4"/>
<path d="M157.6 360.6H170" stroke="#111" stroke-width="1.1"/>
<path d="M163.4 345.2H178.6V346.8" stroke="#aaa" stroke-width="0.45" fill="none"/>
</g>
<rect x="157.6" y="324.5" width="37.00" height="36.60" fill="none" stroke="#a2a2a2" stroke-width="0.7"/>
<text x="181.9" y="333.8" font-size="5.45" textLength="5.9" lengthAdjust="spacingAndGlyphs" fill="#3c3c3c" >42</text>
<clipPath id="cp20"><rect x="203.2" y="324.9" width="37.00" height="35.90"/></clipPath>
<rect x="203.2" y="324.9" width="37.00" height="35.90" fill="#fff"/>
<g clip-path="url(#cp20)">
<path d="M199 334.6Q216 333.8 231.6 334.4Q234.4 336.4 233.4 340.4Q230.6 343.6 221 343.4L199 343.6Z" fill="#a4a4a4" filter="url(#b1)"/>
<path d="M205 336Q218 335 229 336M205 338.4Q218 337.6 228 339M205 341Q216 340.6 225 341.6" stroke="#555" stroke-width="0.5" fill="none"/>
<path d="M223 335.4Q231.2 335 232 338Q231.2 341.6 225 342.4Q227.4 339 223 335.4Z" fill="#555" filter="url(#b1)"/>
<rect x="203.2" y="334" width="1.9" height="9.6" fill="#0a0a0a" filter="url(#b1)"/>
<path d="M221.4 361Q221 352 223 348.4Q226 346 229.4 348.4Q231.6 352 231.6 361Z" fill="#ccc" filter="url(#b2)"/>
<path d="M223.6 350V358M226 348.6V357M228.4 350V358" stroke="#aaa" stroke-width="0.4"/>
<path d="M220 360.5H231.6" stroke="#222" stroke-width="0.9"/>
<circle cx="217" cy="352" r=".35" fill="#777"/><circle cx="214.6" cy="349" r=".3" fill="#999"/>
</g>
<path d="M218.8 324.9V360.8M203.2 344.6H240.2" stroke="#8f8f8f" stroke-width="0.55" fill="none"/>
<rect x="203.2" y="324.9" width="37.00" height="35.90" fill="none" stroke="#a2a2a2" stroke-width="0.7"/>
<text x="204.8" y="330" font-size="5.45" textLength="5.9" lengthAdjust="spacingAndGlyphs" fill="#3c3c3c" >37</text>
<text x="239.4" y="330" font-size="5.45" textLength="5.2" lengthAdjust="spacingAndGlyphs" text-anchor="end" fill="#3c3c3c" >51</text>
<text x="204.4" y="360.9" font-size="5.65" textLength="8.1" lengthAdjust="spacingAndGlyphs" fill="#3c3c3c" >0.8</text>
<text x="239.2" y="360.9" font-size="5.65" textLength="5.3" lengthAdjust="spacingAndGlyphs" text-anchor="end" fill="#3c3c3c" >11</text>
<text x="324" y="18.6" font-size="8.6" textLength="13.5" lengthAdjust="spacingAndGlyphs" stroke="#000" stroke-width="0.15">BM</text>
<text x="438.7" y="18.4" font-size="8.6" textLength="30.8" lengthAdjust="spacingAndGlyphs" stroke="#000" stroke-width="0.15">Thymus</text>
<path d="M276.45 33.0V105.8H383.2M276.45 105.80h-2.2M276.45 91.32h-2.2M276.45 76.84h-2.2M276.45 62.36h-2.2M276.45 47.88h-2.2M276.45 33.40h-2.2M285.6 105.8v2.2M303.8 105.8v2.2M321.9 105.8v2.2M340.0 105.8v2.2M358.0 105.8v2.2M376.3 105.8v2.2" stroke="#000" stroke-width="0.9" fill="none"/>
<text x="273.65" y="107.5" font-size="4.8" text-anchor="end" font-weight="bold" stroke="#000" stroke-width="0.2">0</text>
<text x="273.65" y="93.02" font-size="4.8" text-anchor="end" font-weight="bold" stroke="#000" stroke-width="0.2">1</text>
<text x="273.65" y="78.54" font-size="4.8" text-anchor="end" font-weight="bold" stroke="#000" stroke-width="0.2">2</text>
<text x="273.65" y="64.06" font-size="4.8" text-anchor="end" font-weight="bold" stroke="#000" stroke-width="0.2">3</text>
<text x="273.65" y="49.58" font-size="4.8" text-anchor="end" font-weight="bold" stroke="#000" stroke-width="0.2">4</text>
<text x="273.65" y="35.1" font-size="4.8" text-anchor="end" font-weight="bold" stroke="#000" stroke-width="0.2">5</text>
<text transform="translate(268.2 81.69999999999999) rotate(-90)" font-size="6" font-weight="bold" stroke="#000" stroke-width="0.25" textLength="24.2" lengthAdjust="spacingAndGlyphs">% CD45<tspan font-size="4.3" dy="-2">+</tspan></text>
<path d="M297.5 92.19h12.6M303.8 88.28V95.66M300.40000000000003 88.28h6.8M300.40000000000003 95.66h6.8" stroke="#000" stroke-width="1.1" fill="none"/>
<g><rect x="302.35" y="43.97" width="2.9" height="2.9"/><rect x="299.05" y="62.36" width="2.9" height="2.9"/><rect x="303.35" y="61.63" width="2.9" height="2.9"/><rect x="307.25" y="63.81" width="2.9" height="2.9"/><rect x="302.95" y="66.41" width="2.9" height="2.9"/><rect x="302.35" y="75.82" width="2.9" height="2.9"/><rect x="300.15" y="95.52" width="2.9" height="2.9"/><rect x="306.25" y="95.95" width="2.9" height="2.9"/><rect x="297.35" y="97.54" width="2.9" height="2.9"/><rect x="302.05" y="97.83" width="2.9" height="2.9"/><rect x="300.15" y="99.86" width="2.9" height="2.9"/><rect x="306.45" y="100.01" width="2.9" height="2.9"/><rect x="299.35" y="102.18" width="2.9" height="2.9"/><rect x="302.05" y="102.32" width="2.9" height="2.9"/><rect x="306.75" y="102.18" width="2.9" height="2.9"/><rect x="297.05" y="103.92" width="2.9" height="2.9"/><rect x="300.15" y="104.06" width="2.9" height="2.9"/><rect x="303.35" y="104.35" width="2.9" height="2.9"/><rect x="306.05" y="103.77" width="2.9" height="2.9"/></g>
<path d="M315.7 101.46h12.4M321.9 100.88V101.89M321.9 100.88h0M321.9 101.89h0" stroke="#000" stroke-width="1.1" fill="none"/>
<g><path d="M318.90 100.07l1.45 2.64h-2.90z"/><path d="M321.90 101.23l1.45 2.64h-2.90z"/><path d="M325.30 100.07l1.45 2.64h-2.90z"/></g>
<path d="M333.8 104.79h12.4M340.0 104.06V105.51M340.0 104.06h0M340.0 105.51h0" stroke="#000" stroke-width="1.1" fill="none"/>
<g><path d="M343.00 104.80l1.23 -2.24h-2.46z"/><path d="M338.00 106.54l1.23 -2.24h-2.46z"/><path d="M340.50 106.98l1.23 -2.24h-2.46z"/></g>
<path d="M352.0 102.18h12M358.0 99.28V105.08M355.4 99.28h5.2M355.4 105.08h5.2" stroke="#000" stroke-width="1.1" fill="none"/>
<g><path d="M358.20 95.85l1.68 1.84l-1.68 1.84l-1.68 -1.84z"/><path d="M357.70 103.96l1.68 1.84l-1.68 1.84l-1.68 -1.84z"/><path d="M362.60 103.96l1.68 1.84l-1.68 1.84l-1.68 -1.84z"/></g>
<path d="M370.3 99.43h12M376.3 97.26V101.89M373.1 97.26h6.4M373.1 101.89h6.4" stroke="#000" stroke-width="1.1" fill="none"/>
<g><circle cx="376.30" cy="91.68" r="1.40" fill="#fff" stroke="#000" stroke-width="1.2"/><circle cx="380.90" cy="94.36" r="1.40" fill="#fff" stroke="#000" stroke-width="1.2"/><circle cx="372.00" cy="96.32" r="1.40" fill="#fff" stroke="#000" stroke-width="1.2"/><circle cx="376.40" cy="96.61" r="1.40" fill="#fff" stroke="#000" stroke-width="1.2"/><circle cx="371.80" cy="105.80" r="1.40" fill="#fff" stroke="#000" stroke-width="1.2"/><circle cx="376.30" cy="105.80" r="1.40" fill="#fff" stroke="#000" stroke-width="1.2"/><circle cx="380.70" cy="105.80" r="1.40" fill="#fff" stroke="#000" stroke-width="1.2"/></g>
<text transform="translate(306.8 112.8) rotate(-45)" font-size="5.9" text-anchor="end" fill="#000" stroke="#000" stroke-width="0.12"><tspan dy="0">RA</tspan><tspan font-size="4.3" dy="-2.0">int</tspan><tspan dy="2.0"> DL4</tspan><tspan font-size="4.3" dy="-2.0">low</tspan></text>
<text transform="translate(324.9 112.8) rotate(-45)" font-size="5.9" text-anchor="end" fill="#000" stroke="#000" stroke-width="0.12"><tspan dy="0">RA</tspan><tspan font-size="4.3" dy="-2.0">int</tspan><tspan dy="2.0"> Ctrl</tspan></text>
<text transform="translate(343.0 112.8) rotate(-45)" font-size="5.9" text-anchor="end" fill="#000" stroke="#000" stroke-width="0.12"><tspan dy="0">RA</tspan><tspan font-size="4.3" dy="-2.0">hi</tspan><tspan dy="2.0"> DL4</tspan><tspan font-size="4.3" dy="-2.0">low</tspan></text>
<text transform="translate(361.0 112.8) rotate(-45)" font-size="5.9" text-anchor="end" fill="#000" stroke="#000" stroke-width="0.12"><tspan dy="0">RA</tspan><tspan font-size="4.3" dy="-2.0">hi</tspan><tspan dy="2.0"> Ctrl</tspan></text>
<text transform="translate(379.3 112.8) rotate(-45)" font-size="5.9" text-anchor="end" fill="#000" stroke="#000" stroke-width="0.12"><tspan dy="0">ex vivo RA</tspan><tspan font-size="4.3" dy="-2.0">int</tspan></text>
<path d="M415.6 32.800000000000004V104.2H520M415.6 104.20h-2.2M415.6 90.00h-2.2M415.6 75.80h-2.2M415.6 61.60h-2.2M415.6 47.40h-2.2M415.6 33.20h-2.2M426.5 104.2v2.2M447.4 104.2v2.2M468.8 104.2v2.2M489.6 104.2v2.2M510.8 104.2v2.2" stroke="#000" stroke-width="0.9" fill="none"/>
<text x="412.8" y="105.9" font-size="4.8" text-anchor="end" font-weight="bold" stroke="#000" stroke-width="0.2">0</text>
<text x="412.8" y="91.7" font-size="4.8" text-anchor="end" font-weight="bold" stroke="#000" stroke-width="0.2">20</text>
<text x="412.8" y="77.5" font-size="4.8" text-anchor="end" font-weight="bold" stroke="#000" stroke-width="0.2">40</text>
<text x="412.8" y="63.3" font-size="4.8" text-anchor="end" font-weight="bold" stroke="#000" stroke-width="0.2">60</text>
<text x="412.8" y="49.1" font-size="4.8" text-anchor="end" font-weight="bold" stroke="#000" stroke-width="0.2">80</text>
<text x="412.8" y="34.9" font-size="4.8" text-anchor="end" font-weight="bold" stroke="#000" stroke-width="0.2">100</text>
<text transform="translate(402.4 79.85000000000001) rotate(-90)" font-size="6" font-weight="bold" stroke="#000" stroke-width="0.25" textLength="22.3" lengthAdjust="spacingAndGlyphs">%CD45<tspan font-size="4.3" dy="-2">+</tspan></text>
<path d="M419.3 89.86h14.4M426.5 84.46V94.97M422.7 84.46h7.6M422.7 94.97h7.6" stroke="#000" stroke-width="1.1" fill="none"/>
<g><circle cx="422.40" cy="41.93" r="1.6"/><circle cx="426.50" cy="41.93" r="1.6"/><circle cx="430.70" cy="39.59" r="1.6"/><circle cx="426.50" cy="56.63" r="1.6"/><circle cx="426.50" cy="87.16" r="1.6"/><circle cx="422.50" cy="95.68" r="1.6"/><circle cx="427.30" cy="94.26" r="1.6"/><circle cx="421.50" cy="103.77" r="1.6"/><circle cx="424.90" cy="104.20" r="1.6"/><circle cx="428.20" cy="103.06" r="1.6"/><circle cx="431.50" cy="104.06" r="1.6"/><circle cx="423.20" cy="103.35" r="1.6"/><circle cx="429.90" cy="104.20" r="1.6"/></g>
<g><circle cx="442.60" cy="104.20" r="1.5"/><circle cx="444.60" cy="104.20" r="1.5"/><circle cx="446.50" cy="104.20" r="1.5"/><circle cx="448.40" cy="104.20" r="1.5"/><circle cx="450.30" cy="104.20" r="1.5"/><circle cx="452.20" cy="104.20" r="1.5"/></g>
<path d="M461.90000000000003 73.03h13.8M468.8 60.89V85.74M465.0 60.89h7.6M465.0 85.74h7.6" stroke="#000" stroke-width="1.1" fill="none"/>
<g><path d="M468.80 40.28l1.51 2.74h-3.01z"/><path d="M468.80 46.32l1.51 2.74h-3.01z"/><path d="M468.80 74.36l1.51 2.74h-3.01z"/><path d="M468.80 95.80l1.51 2.74h-3.01z"/><path d="M468.80 102.76l1.51 2.74h-3.01z"/></g>
<g><path d="M485.70 102.70l1.37 1.49l-1.37 1.49l-1.37 -1.49z"/><path d="M489.80 102.70l1.37 1.49l-1.37 1.49l-1.37 -1.49z"/><path d="M491.50 102.70l1.37 1.49l-1.37 1.49l-1.37 -1.49z"/><path d="M493.20 102.70l1.37 1.49l-1.37 1.49l-1.37 -1.49z"/></g>
<path d="M503.90000000000003 96.82h13.8M510.8 93.12V100.65M507.2 93.12h7.2M507.2 100.65h7.2" stroke="#000" stroke-width="1.1" fill="none"/>
<g><path d="M511.30 80.18l1.84 2.01l-1.84 2.01l-1.84 -2.01z"/><path d="M515.40 76.34l1.84 2.01l-1.84 2.01l-1.84 -2.01z"/></g>
<g><path d="M506.00 102.36l1.42 1.55l-1.42 1.55l-1.42 -1.55z"/><path d="M508.20 102.65l1.42 1.55l-1.42 1.55l-1.42 -1.55z"/><path d="M510.40 102.22l1.42 1.55l-1.42 1.55l-1.42 -1.55z"/><path d="M512.60 102.65l1.42 1.55l-1.42 1.55l-1.42 -1.55z"/><path d="M514.80 102.36l1.42 1.55l-1.42 1.55l-1.42 -1.55z"/></g>
<text transform="translate(427.1 112.3) rotate(-45)" font-size="5.3" text-anchor="end" fill="#000" stroke="#000" stroke-width="0.12"><tspan dy="0">RA</tspan><tspan font-size="3.8" dy="-1.8">int</tspan><tspan dy="1.8"> DL4</tspan><tspan font-size="3.8" dy="-1.8">low</tspan></text>
<text transform="translate(448.0 112.3) rotate(-45)" font-size="5.3" text-anchor="end" fill="#000" stroke="#000" stroke-width="0.12"><tspan dy="0">RA</tspan><tspan font-size="3.8" dy="-1.8">int</tspan><tspan dy="1.8"> Ctrl</tspan></text>
<text transform="translate(469.40000000000003 112.3) rotate(-45)" font-size="5.3" text-anchor="end" fill="#000" stroke="#000" stroke-width="0.12"><tspan dy="0">RA</tspan><tspan font-size="3.8" dy="-1.8">hi</tspan><tspan dy="1.8"> DL4</tspan><tspan font-size="3.8" dy="-1.8">low</tspan></text>
<text transform="translate(490.20000000000005 112.3) rotate(-45)" font-size="5.3" text-anchor="end" fill="#000" stroke="#000" stroke-width="0.12"><tspan dy="0">RA</tspan><tspan font-size="3.8" dy="-1.8">hi</tspan><tspan dy="1.8"> Ctrl</tspan></text>
<text transform="translate(511.40000000000003 112.3) rotate(-45)" font-size="5.3" text-anchor="end" fill="#000" stroke="#000" stroke-width="0.12"><tspan dy="0">Ex vivo RA</tspan><tspan font-size="3.8" dy="-1.8">int</tspan></text>
<path d="M281.5 153.2V222.9H385.4M281.5 222.90h-2.2M281.5 209.04h-2.2M281.5 195.18h-2.2M281.5 181.32h-2.2M281.5 167.46h-2.2M281.5 153.60h-2.2M292.4 222.9v2.2M312.7 222.9v2.2M334.2 222.9v2.2M354.2 222.9v2.2M375.7 222.9v2.2" stroke="#000" stroke-width="0.9" fill="none"/>
<text x="278.7" y="224.6" font-size="4.8" text-anchor="end" font-weight="bold" stroke="#000" stroke-width="0.2">0</text>
<text x="278.7" y="210.74" font-size="4.8" text-anchor="end" font-weight="bold" stroke="#000" stroke-width="0.2">20</text>
<text x="278.7" y="196.88" font-size="4.8" text-anchor="end" font-weight="bold" stroke="#000" stroke-width="0.2">40</text>
<text x="278.7" y="183.02" font-size="4.8" text-anchor="end" font-weight="bold" stroke="#000" stroke-width="0.2">60</text>
<text x="278.7" y="169.16" font-size="4.8" text-anchor="end" font-weight="bold" stroke="#000" stroke-width="0.2">80</text>
<text x="278.7" y="155.3" font-size="4.8" text-anchor="end" font-weight="bold" stroke="#000" stroke-width="0.2">100</text>
<text transform="translate(261.4 200.1) rotate(-90)" font-size="6" font-weight="bold" stroke="#000" stroke-width="0.25" textLength="23.7" lengthAdjust="spacingAndGlyphs">% CD19<tspan font-size="4.3" dy="-2">+</tspan></text>
<path d="M285.2 175.50h14.4M292.4 172.52V180.63M288.79999999999995 172.52h7.2M288.79999999999995 180.63h7.2" stroke="#000" stroke-width="1.1" fill="none"/>
<g><circle cx="288.50" cy="157.06" r="1.6"/><circle cx="292.40" cy="156.72" r="1.6"/><circle cx="296.30" cy="157.06" r="1.6"/><circle cx="290.40" cy="159.84" r="1.6"/><circle cx="294.40" cy="159.84" r="1.6"/><circle cx="288.50" cy="162.61" r="1.6"/><circle cx="292.40" cy="164.00" r="1.6"/><circle cx="296.30" cy="162.61" r="1.6"/><circle cx="290.40" cy="166.07" r="1.6"/><circle cx="294.40" cy="167.11" r="1.6"/><circle cx="288.50" cy="168.85" r="1.6"/><circle cx="295.60" cy="168.85" r="1.6"/><circle cx="292.40" cy="170.93" r="1.6"/><circle cx="287.40" cy="174.39" r="1.6"/><circle cx="292.40" cy="179.24" r="1.6"/><circle cx="292.40" cy="185.48" r="1.6"/><circle cx="288.00" cy="195.53" r="1.6"/><circle cx="292.40" cy="197.26" r="1.6"/><circle cx="295.90" cy="193.79" r="1.6"/><circle cx="292.40" cy="211.81" r="1.6"/><circle cx="292.40" cy="216.66" r="1.6"/><circle cx="292.40" cy="221.51" r="1.6"/></g>
<path d="M305.8 194.97h13.8M312.7 182.91V207.17M309.09999999999997 182.91h7.2M309.09999999999997 207.17h7.2" stroke="#000" stroke-width="1.1" fill="none"/>
<g><circle cx="312.70" cy="171.62" r="1.6"/><circle cx="312.70" cy="200.72" r="1.6"/><circle cx="312.70" cy="212.85" r="1.6"/></g>
<path d="M327.5 212.99h13.4M334.2 206.75V219.44M330.7 206.75h7.0M330.7 219.44h7.0" stroke="#000" stroke-width="1.1" fill="none"/>
<g><path d="M334.20 193.53l1.51 2.74h-3.01z"/><path d="M330.00 213.84l1.51 2.74h-3.01z"/><path d="M334.20 220.77l1.51 2.74h-3.01z"/></g>
<path d="M347.2 204.19h14M354.2 194.49V214.10M350.59999999999997 194.49h7.2M350.59999999999997 214.10h7.2" stroke="#000" stroke-width="1.1" fill="none"/>
<g><path d="M354.20 193.10l1.45 -2.64h-2.90z"/><path d="M354.20 200.03l1.45 -2.64h-2.90z"/><path d="M354.20 223.59l1.45 -2.64h-2.90z"/></g>
<path d="M368.3 182.91h14.8M375.7 177.16V188.67M372.0 177.16h7.4M372.0 188.67h7.4" stroke="#000" stroke-width="1.1" fill="none"/>
<g><path d="M379.00 162.13l1.70 1.86l-1.70 1.86l-1.70 -1.86z"/><path d="M375.10 166.01l1.70 1.86l-1.70 1.86l-1.70 -1.86z"/><path d="M375.70 173.91l1.70 1.86l-1.70 1.86l-1.70 -1.86z"/><path d="M371.70 181.05l1.70 1.86l-1.70 1.86l-1.70 -1.86z"/><path d="M379.70 181.05l1.70 1.86l-1.70 1.86l-1.70 -1.86z"/><path d="M375.10 184.52l1.70 1.86l-1.70 1.86l-1.70 -1.86z"/><path d="M375.10 189.16l1.70 1.86l-1.70 1.86l-1.70 -1.86z"/><path d="M375.10 209.95l1.70 1.86l-1.70 1.86l-1.70 -1.86z"/></g>
<text transform="translate(294.59999999999997 229.8) rotate(-45)" font-size="5.3" text-anchor="end" font-weight="bold" fill="#000" stroke="#000" stroke-width="0.12">RAint DL4low</text>
<text transform="translate(314.9 229.8) rotate(-45)" font-size="5.3" text-anchor="end" font-weight="bold" fill="#000" stroke="#000" stroke-width="0.12">RAint Ctrl</text>
<text transform="translate(336.4 229.8) rotate(-45)" font-size="5.3" text-anchor="end" font-weight="bold" fill="#000" stroke="#000" stroke-width="0.12">RAhi DL4low</text>
<text transform="translate(356.4 229.8) rotate(-45)" font-size="5.3" text-anchor="end" font-weight="bold" fill="#000" stroke="#000" stroke-width="0.12">RAhi Ctrl</text>
<text transform="translate(377.9 229.8) rotate(-45)" font-size="5.3" text-anchor="end" font-weight="bold" fill="#000" stroke="#000" stroke-width="0.12">Ex vivo RAint</text>
<path d="M418.5 153.0V221.7H520M418.5 221.70h-2.2M418.5 208.04h-2.2M418.5 194.38h-2.2M418.5 180.72h-2.2M418.5 167.06h-2.2M418.5 153.40h-2.2M428.8 221.7v2.2M449.6 221.7v2.2M470.4 221.7v2.2M490.2 221.7v2.2M512 221.7v2.2" stroke="#000" stroke-width="0.9" fill="none"/>
<text x="415.7" y="223.4" font-size="4.8" text-anchor="end" font-weight="bold" stroke="#000" stroke-width="0.2">0</text>
<text x="415.7" y="209.74" font-size="4.8" text-anchor="end" font-weight="bold" stroke="#000" stroke-width="0.2">20</text>
<text x="415.7" y="196.08" font-size="4.8" text-anchor="end" font-weight="bold" stroke="#000" stroke-width="0.2">40</text>
<text x="415.7" y="182.42" font-size="4.8" text-anchor="end" font-weight="bold" stroke="#000" stroke-width="0.2">60</text>
<text x="415.7" y="168.76" font-size="4.8" text-anchor="end" font-weight="bold" stroke="#000" stroke-width="0.2">80</text>
<text x="415.7" y="155.1" font-size="4.8" text-anchor="end" font-weight="bold" stroke="#000" stroke-width="0.2">100</text>
<text transform="translate(404 210.85000000000002) rotate(-90)" font-size="6" font-weight="bold" stroke="#000" stroke-width="0.25" textLength="46.6" lengthAdjust="spacingAndGlyphs">%Marker positive</text>
<path d="M421.6 195.61h14.4M428.8 192.33V199.57M425.5 192.33h6.6M425.5 199.57h6.6" stroke="#000" stroke-width="1.1" fill="none"/>
<g><circle cx="424.80" cy="177.31" r="1.6"/><circle cx="428.80" cy="178.67" r="1.6"/><circle cx="428.80" cy="182.09" r="1.6"/><circle cx="433.40" cy="181.40" r="1.6"/><circle cx="424.80" cy="185.71" r="1.6"/><circle cx="429.50" cy="187.07" r="1.6"/><circle cx="428.80" cy="192.33" r="1.6"/><circle cx="433.40" cy="194.04" r="1.6"/><circle cx="424.80" cy="196.43" r="1.6"/><circle cx="431.80" cy="197.79" r="1.6"/><circle cx="427.20" cy="199.84" r="1.6"/><circle cx="428.80" cy="201.21" r="1.6"/><circle cx="424.80" cy="218.01" r="1.6"/><circle cx="429.50" cy="220.33" r="1.6"/><circle cx="433.40" cy="219.38" r="1.6"/></g>
<g><circle cx="444.40" cy="221.70" r="1.6"/><circle cx="446.60" cy="221.70" r="1.6"/><circle cx="448.60" cy="221.70" r="1.6"/><circle cx="450.60" cy="221.70" r="1.6"/><circle cx="452.60" cy="221.70" r="1.6"/><circle cx="454.80" cy="221.70" r="1.6"/></g>
<path d="M463.5 213.37h13.8M470.4 207.15V220.33M466.9 207.15h7.0M466.9 220.33h7.0" stroke="#000" stroke-width="1.1" fill="none"/>
<g><path d="M470.40 186.59l1.51 2.74h-3.01z"/><path d="M470.40 213.77l1.51 2.74h-3.01z"/><path d="M467.00 219.58l1.51 2.74h-3.01z"/><path d="M472.80 219.58l1.51 2.74h-3.01z"/></g>
<g><path d="M486.40 220.20l1.37 1.49l-1.37 1.49l-1.37 -1.49z"/><path d="M490.60 220.20l1.37 1.49l-1.37 1.49l-1.37 -1.49z"/><path d="M492.20 220.20l1.37 1.49l-1.37 1.49l-1.37 -1.49z"/><path d="M493.80 220.20l1.37 1.49l-1.37 1.49l-1.37 -1.49z"/></g>
<path d="M505.1 181.81h13.8M512 176.49V187.55M508.5 176.49h7.0M508.5 187.55h7.0" stroke="#000" stroke-width="1.1" fill="none"/>
<g><path d="M512.00 162.47l1.70 1.86l-1.70 1.86l-1.70 -1.86z"/><path d="M512.00 167.25l1.70 1.86l-1.70 1.86l-1.70 -1.86z"/><path d="M507.40 170.66l1.70 1.86l-1.70 1.86l-1.70 -1.86z"/><path d="M509.70 172.98l1.70 1.86l-1.70 1.86l-1.70 -1.86z"/><path d="M513.20 172.98l1.70 1.86l-1.70 1.86l-1.70 -1.86z"/><path d="M515.50 176.47l1.70 1.86l-1.70 1.86l-1.70 -1.86z"/><path d="M512.00 178.86l1.70 1.86l-1.70 1.86l-1.70 -1.86z"/><path d="M512.00 203.72l1.70 1.86l-1.70 1.86l-1.70 -1.86z"/><path d="M512.00 208.77l1.70 1.86l-1.70 1.86l-1.70 -1.86z"/></g>
<text transform="translate(429.40000000000003 229.3) rotate(-45)" font-size="5.0" text-anchor="end" fill="#000" stroke="#000" stroke-width="0.12"><tspan dy="0">RA</tspan><tspan font-size="3.6" dy="-1.7">int</tspan><tspan dy="1.7"> DL4</tspan><tspan font-size="3.6" dy="-1.7">low</tspan><tspan dy="1.7"> (DP</tspan><tspan font-size="3.6" dy="-1.7">+</tspan><tspan dy="1.7">)</tspan></text>
<text transform="translate(450.20000000000005 229.3) rotate(-45)" font-size="5.0" text-anchor="end" fill="#000" stroke="#000" stroke-width="0.12"><tspan dy="0">RA</tspan><tspan font-size="3.6" dy="-1.7">int</tspan><tspan dy="1.7"> Ctrl</tspan><tspan dy="0"> (DP</tspan><tspan font-size="3.6" dy="-1.7">+</tspan><tspan dy="1.7">)</tspan></text>
<text transform="translate(471.0 229.3) rotate(-45)" font-size="5.0" text-anchor="end" fill="#000" stroke="#000" stroke-width="0.12"><tspan dy="0">RA</tspan><tspan font-size="3.6" dy="-1.7">hi</tspan><tspan dy="1.7"> DL4</tspan><tspan font-size="3.6" dy="-1.7">low</tspan><tspan dy="1.7"> (DP</tspan><tspan font-size="3.6" dy="-1.7">+</tspan><tspan dy="1.7">)</tspan></text>
<text transform="translate(490.8 229.3) rotate(-45)" font-size="5.0" text-anchor="end" fill="#000" stroke="#000" stroke-width="0.12"><tspan dy="0">RA</tspan><tspan font-size="3.6" dy="-1.7">hi</tspan><tspan dy="1.7"> Ctrl</tspan><tspan dy="0"> (DP</tspan><tspan font-size="3.6" dy="-1.7">+</tspan><tspan dy="1.7">)</tspan></text>
<text transform="translate(512.6 229.3) rotate(-45)" font-size="5.0" text-anchor="end" fill="#000" stroke="#000" stroke-width="0.12"><tspan dy="0">Ex vivo RA</tspan><tspan font-size="3.6" dy="-1.7">int</tspan><tspan dy="1.7"> (CD7</tspan><tspan font-size="3.6" dy="-1.7">+</tspan><tspan dy="1.7">)</tspan></text>
<path d="M276.45 276.5V350.3H385.4M276.45 350.30h-2.2M276.45 325.83h-2.2M276.45 301.37h-2.2M276.45 276.90h-2.2M286.3 350.3v2.2M304.6 350.3v2.2M322.6 350.3v2.2M341 350.3v2.2M359.5 350.3v2.2M378 350.3v2.2" stroke="#000" stroke-width="0.9" fill="none"/>
<text x="273.65" y="352.0" font-size="4.8" text-anchor="end" font-weight="bold" stroke="#000" stroke-width="0.2">0</text>
<text x="273.65" y="327.53" font-size="4.8" text-anchor="end" font-weight="bold" stroke="#000" stroke-width="0.2">5</text>
<text x="273.65" y="303.07" font-size="4.8" text-anchor="end" font-weight="bold" stroke="#000" stroke-width="0.2">10</text>
<text x="273.65" y="278.6" font-size="4.8" text-anchor="end" font-weight="bold" stroke="#000" stroke-width="0.2">15</text>
<text transform="translate(265.8 324.90000000000003) rotate(-90)" font-size="6" font-weight="bold" stroke="#000" stroke-width="0.25" textLength="22.6" lengthAdjust="spacingAndGlyphs">%CD33<tspan font-size="4.3" dy="-2">+</tspan></text>
<path d="M297.90000000000003 339.05h13.4M304.6 336.11V342.47M301.20000000000005 336.11h6.8M301.20000000000005 342.47h6.8" stroke="#000" stroke-width="1.1" fill="none"/>
<g><rect x="302.90" y="308.29" width="2.8" height="2.8"/><rect x="298.60" y="314.16" width="2.8" height="2.8"/><rect x="302.90" y="315.63" width="2.8" height="2.8"/><rect x="302.90" y="322.97" width="2.8" height="2.8"/><rect x="302.90" y="333.24" width="2.8" height="2.8"/><rect x="299.60" y="335.44" width="2.8" height="2.8"/><rect x="306.30" y="335.44" width="2.8" height="2.8"/><rect x="302.90" y="337.65" width="2.8" height="2.8"/><rect x="301.10" y="339.85" width="2.8" height="2.8"/><rect x="305.50" y="339.85" width="2.8" height="2.8"/><rect x="298.90" y="342.78" width="2.8" height="2.8"/><rect x="303.30" y="342.78" width="2.8" height="2.8"/><rect x="307.40" y="342.78" width="2.8" height="2.8"/><rect x="301.10" y="344.99" width="2.8" height="2.8"/><rect x="305.20" y="345.23" width="2.8" height="2.8"/><rect x="302.90" y="347.68" width="2.8" height="2.8"/><rect x="307.00" y="347.68" width="2.8" height="2.8"/></g>
<path d="M316.20000000000005 339.05h12.8M322.6 332.68V346.39M319.20000000000005 332.68h6.8M319.20000000000005 346.39h6.8" stroke="#000" stroke-width="1.1" fill="none"/>
<g><path d="M322.60 325.67l1.71 3.10h-3.41z"/><path d="M326.20 342.31l1.71 3.10h-3.41z"/><path d="M322.60 344.02l1.71 3.10h-3.41z"/></g>
<path d="M334.3 343.20h13.4M341 335.62V350.30M337.7 335.62h6.6M337.7 350.30h6.6" stroke="#000" stroke-width="1.1" fill="none"/>
<g><path d="M341.00 322.51l1.65 -3.00h-3.30z"/><path d="M336.80 351.39l1.65 -3.00h-3.30z"/><path d="M341.00 351.88l1.65 -3.00h-3.30z"/><path d="M345.20 351.39l1.65 -3.00h-3.30z"/></g>
<path d="M352.8 343.20h13.4M359.5 336.11V350.30M356.2 336.11h6.6M356.2 350.30h6.6" stroke="#000" stroke-width="1.1" fill="none"/>
<g><path d="M359.50 326.87l1.73 1.90l-1.73 1.90l-1.73 -1.90z"/><path d="M359.50 348.40l1.73 1.90l-1.73 1.90l-1.73 -1.90z"/><path d="M364.10 348.40l1.73 1.90l-1.73 1.90l-1.73 -1.90z"/></g>
<path d="M371.2 326.32h13.6M378 318.98V333.17M374.5 318.98h7.0M374.5 333.17h7.0" stroke="#000" stroke-width="1.1" fill="none"/>
<g><circle cx="378.00" cy="295.01" r="1.40" fill="#fff" stroke="#000" stroke-width="1.2"/><circle cx="378.00" cy="310.17" r="1.40" fill="#fff" stroke="#000" stroke-width="1.2"/><circle cx="378.00" cy="318.00" r="1.40" fill="#fff" stroke="#000" stroke-width="1.2"/><circle cx="378.00" cy="332.19" r="1.40" fill="#fff" stroke="#000" stroke-width="1.2"/><circle cx="378.00" cy="336.60" r="1.40" fill="#fff" stroke="#000" stroke-width="1.2"/><circle cx="378.00" cy="342.96" r="1.40" fill="#fff" stroke="#000" stroke-width="1.2"/><circle cx="378.00" cy="350.30" r="1.40" fill="#fff" stroke="#000" stroke-width="1.2"/></g>
<text transform="translate(304.8 358.2) rotate(-45)" font-size="5.8" text-anchor="end" fill="#000" stroke="#000" stroke-width="0.12"><tspan dy="0">RA</tspan><tspan font-size="4.2" dy="-2.0">int</tspan><tspan dy="2.0"> DL4</tspan><tspan font-size="4.2" dy="-2.0">low</tspan></text>
<text transform="translate(322.8 358.2) rotate(-45)" font-size="5.8" text-anchor="end" fill="#000" stroke="#000" stroke-width="0.12"><tspan dy="0">RA</tspan><tspan font-size="4.2" dy="-2.0">int</tspan><tspan dy="2.0"> Ctrl</tspan></text>
<text transform="translate(341.2 358.2) rotate(-45)" font-size="5.8" text-anchor="end" fill="#000" stroke="#000" stroke-width="0.12"><tspan dy="0">RA</tspan><tspan font-size="4.2" dy="-2.0">hi</tspan><tspan dy="2.0"> DL4</tspan><tspan font-size="4.2" dy="-2.0">low</tspan></text>
<text transform="translate(359.7 358.2) rotate(-45)" font-size="5.8" text-anchor="end" fill="#000" stroke="#000" stroke-width="0.12"><tspan dy="0">RA</tspan><tspan font-size="4.2" dy="-2.0">hi</tspan><tspan dy="2.0"> Ctrl</tspan></text>
<text transform="translate(378.2 358.2) rotate(-45)" font-size="5.8" text-anchor="end" fill="#000" stroke="#000" stroke-width="0.12"><tspan dy="0">Ex vivo RA</tspan><tspan font-size="4.2" dy="-2.0">int</tspan></text>
</svg>
</body></html>
